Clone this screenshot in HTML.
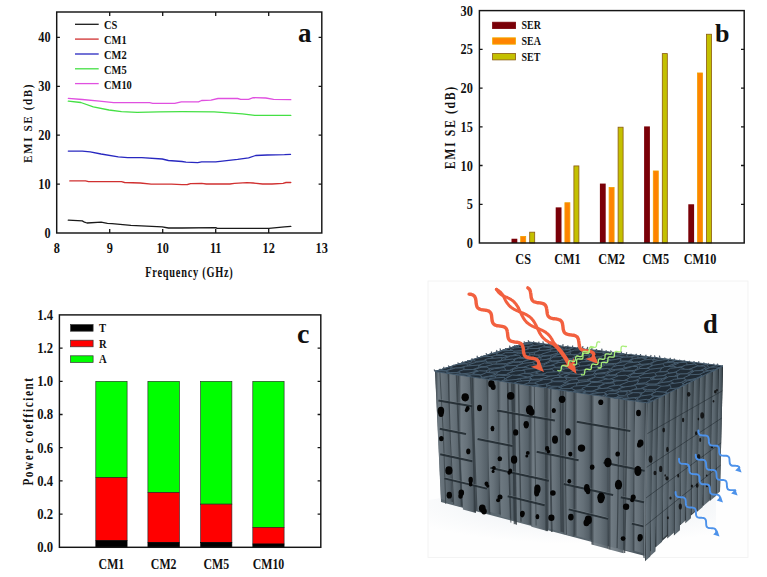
<!DOCTYPE html>
<html><head><meta charset="utf-8"><style>
html,body{margin:0;padding:0;background:#fff;}
svg{display:block;}
text{font-family:"Liberation Serif",serif;font-weight:bold;fill:#111;}
</style></head><body>
<svg width="767" height="577" viewBox="0 0 767 577">
<rect width="767" height="577" fill="#fff"/>
<rect x="56.7" y="12.0" width="265.1" height="221.0" fill="none" stroke="#151515" stroke-width="1.45"/>
<path d="M109.7,233.0v-4M109.7,12.0v4M162.7,233.0v-4M162.7,12.0v4M215.7,233.0v-4M215.7,12.0v4M268.7,233.0v-4M268.7,12.0v4M56.7,184.1h3.2M321.8,184.1h-3.2M56.7,135.2h3.2M321.8,135.2h-3.2M56.7,86.3h3.2M321.8,86.3h-3.2M56.7,37.4h3.2M321.8,37.4h-3.2" stroke="#151515" stroke-width="1.3" fill="none"/>
<text transform="translate(50.60,238.00) scale(0.83,1)" font-size="14.8" text-anchor="end" >0</text>
<text transform="translate(50.60,189.10) scale(0.83,1)" font-size="14.8" text-anchor="end" >10</text>
<text transform="translate(50.60,140.20) scale(0.83,1)" font-size="14.8" text-anchor="end" >20</text>
<text transform="translate(50.60,91.30) scale(0.83,1)" font-size="14.8" text-anchor="end" >30</text>
<text transform="translate(50.60,42.40) scale(0.83,1)" font-size="14.8" text-anchor="end" >40</text>
<text transform="translate(56.70,253.30) scale(0.83,1)" font-size="14.8" text-anchor="middle" >8</text>
<text transform="translate(109.70,253.30) scale(0.83,1)" font-size="14.8" text-anchor="middle" >9</text>
<text transform="translate(162.70,253.30) scale(0.83,1)" font-size="14.8" text-anchor="middle" >10</text>
<text transform="translate(215.70,253.30) scale(0.83,1)" font-size="14.8" text-anchor="middle" >11</text>
<text transform="translate(268.70,253.30) scale(0.83,1)" font-size="14.8" text-anchor="middle" >12</text>
<text transform="translate(321.70,253.30) scale(0.83,1)" font-size="14.8" text-anchor="middle" >13</text>
<text transform="translate(189.40,277.20) scale(0.74,1)" font-size="14.0" text-anchor="middle" letter-spacing="1.0">Frequency (GHz)</text>
<text transform="translate(31.80,122.90) rotate(-90) scale(0.85,1)" font-size="13.1" text-anchor="middle" letter-spacing="1.9">EMI SE (dB)</text>
<text x="298" y="42.4" font-size="27">a</text>
<line x1="75" y1="24.3" x2="98.7" y2="24.3" stroke="#1a1a1a" stroke-width="1.3"/>
<text transform="translate(104.00,29.20) scale(0.81,1)" font-size="12.9" text-anchor="start" >CS</text>
<line x1="75" y1="39.1" x2="98.7" y2="39.1" stroke="#d03030" stroke-width="1.3"/>
<text transform="translate(104.00,44.03) scale(0.81,1)" font-size="12.9" text-anchor="start" >CM1</text>
<line x1="75" y1="54.0" x2="98.7" y2="54.0" stroke="#2828c0" stroke-width="1.3"/>
<text transform="translate(104.00,58.86) scale(0.81,1)" font-size="12.9" text-anchor="start" >CM2</text>
<line x1="75" y1="68.8" x2="98.7" y2="68.8" stroke="#44e044" stroke-width="1.3"/>
<text transform="translate(104.00,73.69) scale(0.81,1)" font-size="12.9" text-anchor="start" >CM5</text>
<line x1="75" y1="83.6" x2="98.7" y2="83.6" stroke="#e050e0" stroke-width="1.3"/>
<text transform="translate(104.00,88.52) scale(0.81,1)" font-size="12.9" text-anchor="start" >CM10</text>
<polyline points="68.3,98.3 82.3,99.5 99.6,101.1 113.6,102.6 149.6,102.6 152.8,103.3 174.7,103.3 181.3,101.8 198.5,101.8 201.6,100.5 211.0,100.2 218.0,98.5 237.6,98.5 240.7,99.3 248.6,99.3 253.2,97.7 265.8,98.0 273.6,99.3 290.8,99.7" fill="none" stroke="#e050e0" stroke-width="1.3" stroke-linejoin="round" stroke-linecap="round"/>
<polyline points="68.3,101.1 80.8,102.5 93.3,106.9 109.0,110.0 121.5,111.6 137.1,112.3 159.0,111.9 182.0,111.7 214.1,111.8 225.0,112.7 242.3,113.8 254.8,115.4 290.8,115.4" fill="none" stroke="#44e044" stroke-width="1.3" stroke-linejoin="round" stroke-linecap="round"/>
<polyline points="68.3,151.1 82.3,151.1 90.2,151.9 101.1,154.0 118.3,156.8 127.7,157.6 141.8,157.6 162.2,159.0 168.4,160.5 182.0,161.5 186.0,162.1 197.7,162.6 201.6,161.8 215.7,161.8 237.6,159.4 248.6,157.9 255.6,155.5 267.3,155.0 284.5,154.7 290.5,154.4" fill="none" stroke="#2828c0" stroke-width="1.3" stroke-linejoin="round" stroke-linecap="round"/>
<polyline points="69.8,180.9 85.5,180.9 88.6,181.7 121.5,181.7 124.6,182.5 140.2,183.0 151.2,184.2 171.5,184.2 182.0,184.6 187.5,184.5 190.6,183.7 201.6,183.3 206.3,184.0 229.8,184.0 234.5,183.3 247.0,182.6 253.2,183.0 262.6,184.0 272.0,184.0 283.0,183.3 286.0,182.5 290.8,182.5" fill="none" stroke="#d03030" stroke-width="1.3" stroke-linejoin="round" stroke-linecap="round"/>
<polyline points="68.3,220.1 82.3,220.9 84.5,222.2 87.0,223.0 101.1,222.2 107.4,223.3 112.0,223.7 130.9,225.3 162.2,226.9 168.4,228.0 182.0,228.0 215.7,227.6 217.2,228.4 268.9,228.4 276.7,227.6 284.5,226.9 290.8,226.4" fill="none" stroke="#1a1a1a" stroke-width="1.3" stroke-linejoin="round" stroke-linecap="round"/>
<rect x="511.50" y="238.74" width="5.8" height="4.26" fill="#7a0008"/>
<rect x="520.70" y="236.43" width="5.0" height="6.57" fill="#ff8400" stroke="#f0a000" stroke-width="0.8"/>
<rect x="529.70" y="232.17" width="5.0" height="10.83" fill="#c4c000" stroke="#8a5a10" stroke-width="0.8"/>
<text transform="translate(523.20,264.20) scale(0.84,1)" font-size="14.6" text-anchor="middle" >CS</text>
<rect x="555.70" y="207.37" width="5.8" height="35.63" fill="#7a0008"/>
<rect x="564.90" y="202.73" width="5.0" height="40.27" fill="#ff8400" stroke="#f0a000" stroke-width="0.8"/>
<rect x="573.90" y="165.93" width="5.0" height="77.07" fill="#c4c000" stroke="#8a5a10" stroke-width="0.8"/>
<text transform="translate(567.40,264.20) scale(0.84,1)" font-size="14.6" text-anchor="middle" >CM1</text>
<rect x="599.90" y="183.58" width="5.8" height="59.42" fill="#7a0008"/>
<rect x="609.10" y="187.47" width="5.0" height="55.53" fill="#ff8400" stroke="#f0a000" stroke-width="0.8"/>
<rect x="618.10" y="127.20" width="5.0" height="115.80" fill="#c4c000" stroke="#8a5a10" stroke-width="0.8"/>
<text transform="translate(611.60,264.20) scale(0.84,1)" font-size="14.6" text-anchor="middle" >CM2</text>
<rect x="644.10" y="126.41" width="5.8" height="116.59" fill="#7a0008"/>
<rect x="653.30" y="170.97" width="5.0" height="72.03" fill="#ff8400" stroke="#f0a000" stroke-width="0.8"/>
<rect x="662.30" y="53.61" width="5.0" height="189.39" fill="#c4c000" stroke="#8a5a10" stroke-width="0.8"/>
<text transform="translate(655.80,264.20) scale(0.84,1)" font-size="14.6" text-anchor="middle" >CM5</text>
<rect x="688.30" y="204.27" width="5.8" height="38.73" fill="#7a0008"/>
<rect x="697.50" y="72.97" width="5.0" height="170.03" fill="#ff8400" stroke="#f0a000" stroke-width="0.8"/>
<rect x="706.50" y="34.24" width="5.0" height="208.76" fill="#c4c000" stroke="#8a5a10" stroke-width="0.8"/>
<text transform="translate(700.00,264.20) scale(0.84,1)" font-size="14.6" text-anchor="middle" >CM10</text>
<rect x="479.4" y="10.6" width="264.8" height="232.4" fill="none" stroke="#151515" stroke-width="1.45"/>
<path d="M479.4,204.3h3.2M744.2,204.3h-3.2M479.4,165.5h3.2M744.2,165.5h-3.2M479.4,126.8h3.2M744.2,126.8h-3.2M479.4,88.1h3.2M744.2,88.1h-3.2M479.4,49.3h3.2M744.2,49.3h-3.2" stroke="#151515" stroke-width="1.3" fill="none"/>
<text transform="translate(472.90,248.00) scale(0.83,1)" font-size="14.8" text-anchor="end" >0</text>
<text transform="translate(472.90,209.27) scale(0.83,1)" font-size="14.8" text-anchor="end" >5</text>
<text transform="translate(472.90,170.53) scale(0.83,1)" font-size="14.8" text-anchor="end" >10</text>
<text transform="translate(472.90,131.80) scale(0.83,1)" font-size="14.8" text-anchor="end" >15</text>
<text transform="translate(472.90,93.07) scale(0.83,1)" font-size="14.8" text-anchor="end" >20</text>
<text transform="translate(472.90,54.33) scale(0.83,1)" font-size="14.8" text-anchor="end" >25</text>
<text transform="translate(472.90,15.60) scale(0.83,1)" font-size="14.8" text-anchor="end" >30</text>
<text transform="translate(454.60,127.20) rotate(-90) scale(0.85,1)" font-size="13.9" text-anchor="middle" letter-spacing="1.9">EMI SE (dB)</text>
<text x="715" y="42.2" font-size="26">b</text>
<rect x="492.6" y="22.2" width="23" height="6.4" fill="#7a0008" stroke="#7a0008" stroke-width="0.8"/>
<text transform="translate(521.50,29.30) scale(0.86,1)" font-size="11.6" text-anchor="start" >SER</text>
<rect x="492.6" y="37.8" width="23" height="6.4" fill="#ff8400" stroke="#f0b000" stroke-width="0.8"/>
<text transform="translate(521.50,44.95) scale(0.86,1)" font-size="11.6" text-anchor="start" >SEA</text>
<rect x="492.6" y="53.5" width="23" height="6.4" fill="#c4c000" stroke="#8a5a10" stroke-width="0.8"/>
<text transform="translate(521.50,60.60) scale(0.86,1)" font-size="11.6" text-anchor="start" >SET</text>
<rect x="95.8" y="381.30" width="31.3" height="96.28" fill="#00ff00" stroke="#222" stroke-width="0.6"/>
<rect x="95.8" y="477.58" width="31.3" height="63.08" fill="#ff0000" stroke="#222" stroke-width="0.6"/>
<rect x="95.8" y="540.66" width="31.3" height="6.64" fill="#000" stroke="#000" stroke-width="0.6"/>
<text transform="translate(111.45,568.60) scale(0.77,1)" font-size="15.4" text-anchor="middle" >CM1</text>
<rect x="147.9" y="381.30" width="31.6" height="111.22" fill="#00ff00" stroke="#222" stroke-width="0.6"/>
<rect x="147.9" y="492.52" width="31.6" height="49.80" fill="#ff0000" stroke="#222" stroke-width="0.6"/>
<rect x="147.9" y="542.32" width="31.6" height="4.98" fill="#000" stroke="#000" stroke-width="0.6"/>
<text transform="translate(163.70,568.60) scale(0.77,1)" font-size="15.4" text-anchor="middle" >CM2</text>
<rect x="200.6" y="381.30" width="31.3" height="122.84" fill="#00ff00" stroke="#222" stroke-width="0.6"/>
<rect x="200.6" y="504.14" width="31.3" height="38.18" fill="#ff0000" stroke="#222" stroke-width="0.6"/>
<rect x="200.6" y="542.32" width="31.3" height="4.98" fill="#000" stroke="#000" stroke-width="0.6"/>
<text transform="translate(216.25,568.60) scale(0.77,1)" font-size="15.4" text-anchor="middle" >CM5</text>
<rect x="252.8" y="381.30" width="31.3" height="146.08" fill="#00ff00" stroke="#222" stroke-width="0.6"/>
<rect x="252.8" y="527.38" width="31.3" height="16.60" fill="#ff0000" stroke="#222" stroke-width="0.6"/>
<rect x="252.8" y="543.98" width="31.3" height="3.32" fill="#000" stroke="#000" stroke-width="0.6"/>
<text transform="translate(268.45,568.60) scale(0.77,1)" font-size="15.4" text-anchor="middle" >CM10</text>
<rect x="59.4" y="314.9" width="261.4" height="232.4" fill="none" stroke="#151515" stroke-width="1.45"/>
<path d="M59.4,514.1h3.2M320.8,514.1h-3.2M59.4,480.9h3.2M320.8,480.9h-3.2M59.4,447.7h3.2M320.8,447.7h-3.2M59.4,414.5h3.2M320.8,414.5h-3.2M59.4,381.3h3.2M320.8,381.3h-3.2M59.4,348.1h3.2M320.8,348.1h-3.2" stroke="#151515" stroke-width="1.3" fill="none"/>
<text transform="translate(53.00,552.20) scale(0.88,1)" font-size="14.4" text-anchor="end" >0.0</text>
<text transform="translate(53.00,519.00) scale(0.88,1)" font-size="14.4" text-anchor="end" >0.2</text>
<text transform="translate(53.00,485.80) scale(0.88,1)" font-size="14.4" text-anchor="end" >0.4</text>
<text transform="translate(53.00,452.60) scale(0.88,1)" font-size="14.4" text-anchor="end" >0.6</text>
<text transform="translate(53.00,419.40) scale(0.88,1)" font-size="14.4" text-anchor="end" >0.8</text>
<text transform="translate(53.00,386.20) scale(0.88,1)" font-size="14.4" text-anchor="end" >1.0</text>
<text transform="translate(53.00,353.00) scale(0.88,1)" font-size="14.4" text-anchor="end" >1.2</text>
<text transform="translate(53.00,319.80) scale(0.88,1)" font-size="14.4" text-anchor="end" >1.4</text>
<text transform="translate(32.80,431.00) rotate(-90) scale(0.73,1)" font-size="15.3" text-anchor="middle" letter-spacing="2.2">Power coefficient</text>
<text x="297" y="343" font-size="28">c</text>
<rect x="70.6" y="324.6" width="22.5" height="6.6" fill="#000" stroke="#333" stroke-width="0.7"/>
<text transform="translate(99.00,332.00) scale(0.83,1)" font-size="12.8" text-anchor="start" >T</text>
<rect x="70.6" y="340.2" width="22.5" height="6.6" fill="#ff0000" stroke="#333" stroke-width="0.7"/>
<text transform="translate(99.00,347.60) scale(0.83,1)" font-size="12.8" text-anchor="start" >R</text>
<rect x="70.6" y="355.8" width="22.5" height="6.6" fill="#00ff00" stroke="#333" stroke-width="0.7"/>
<text transform="translate(99.00,363.20) scale(0.83,1)" font-size="12.8" text-anchor="start" >A</text>
<rect x="428" y="281" width="320" height="276.5" fill="#fefefe" stroke="#f0f0f0" stroke-width="0.8"/>
<defs><linearGradient id="shd" x1="0" y1="0" x2="0" y2="1"><stop offset="0" stop-color="#e6ebef"/><stop offset="0.6" stop-color="#f1f4f6"/><stop offset="1" stop-color="#fafbfc"/></linearGradient><linearGradient id="frontg" x1="0" y1="0" x2="1" y2="0"><stop offset="0" stop-color="#57636b"/><stop offset="0.45" stop-color="#5d6a72"/><stop offset="0.8" stop-color="#55616a"/><stop offset="1" stop-color="#4a555d"/></linearGradient><linearGradient id="rightg" x1="0" y1="0" x2="1" y2="0"><stop offset="0" stop-color="#353e44"/><stop offset="1" stop-color="#2d353a"/></linearGradient><linearGradient id="topg" x1="0" y1="0" x2="1" y2="1"><stop offset="0" stop-color="#3e4a55"/><stop offset="1" stop-color="#34404a"/></linearGradient><linearGradient id="fin" x1="0" y1="0" x2="1" y2="0"><stop offset="0" stop-color="#2e363c"/><stop offset="0.18" stop-color="#727d85"/><stop offset="0.5" stop-color="#67727a"/><stop offset="0.82" stop-color="#545f67"/><stop offset="1" stop-color="#2c343a"/></linearGradient><linearGradient id="finr" x1="0" y1="0" x2="1" y2="0"><stop offset="0" stop-color="#1e252a"/><stop offset="0.15" stop-color="#65717a"/><stop offset="0.5" stop-color="#58646c"/><stop offset="0.85" stop-color="#3e4950"/><stop offset="1" stop-color="#1d2429"/></linearGradient><radialGradient id="shd2" cx="0.55" cy="0.1" r="0.7"><stop offset="0" stop-color="#e9eef2"/><stop offset="0.6" stop-color="#f5f7f9"/><stop offset="1" stop-color="#fefefe"/></radialGradient></defs>
<polygon points="441,498 645,552 716,494 716,556.5 429,556.5 429,500" fill="url(#shd2)"/>
<polygon points="435,371.5 648,403 645,556 441,502" fill="url(#frontg)"/>
<polygon points="648,403 723,366 720,490 645,556" fill="url(#rightg)"/>
<path d="M435.0,369.9 L447.7,373.2 Q450.6,437.7 453.2,502.3 L441.0,499.1 Q438.1,434.5 435.0,369.9Z" fill="url(#fin)" opacity="0.84"/>
<path d="M447.7,373.3 L457.8,373.8 Q458.8,440.6 462.9,507.3 L453.2,504.8 Q448.9,439.0 447.7,373.3Z" fill="url(#fin)" opacity="0.77"/>
<path d="M457.8,374.6 L471.5,376.3 Q474.2,444.7 475.9,513.0 L462.9,509.6 Q460.8,442.1 457.8,374.6Z" fill="url(#fin)" opacity="0.99"/>
<path d="M471.5,374.5 L486.6,379.0 Q489.8,446.4 490.4,513.9 L475.9,510.0 Q475.0,442.2 471.5,374.5Z" fill="url(#fin)" opacity="0.82"/>
<path d="M486.6,378.4 L497.6,378.7 Q498.1,446.7 500.9,514.7 L490.4,511.9 Q487.4,445.1 486.6,378.4Z" fill="url(#fin)" opacity="0.90"/>
<path d="M497.6,379.4 L513.3,382.9 Q513.0,451.7 516.0,520.5 L500.9,516.5 Q497.7,447.9 497.6,379.4Z" fill="url(#fin)" opacity="0.80"/>
<path d="M513.3,382.3 L529.4,384.0 Q530.2,454.5 531.4,524.9 L516.0,520.8 Q514.5,451.6 513.3,382.3Z" fill="url(#fin)" opacity="0.82"/>
<path d="M529.4,384.8 L546.6,386.6 Q547.3,458.9 547.9,531.2 L531.4,526.8 Q530.5,455.8 529.4,384.8Z" fill="url(#fin)" opacity="0.97"/>
<path d="M546.6,385.6 L563.2,390.2 Q563.2,461.3 563.7,532.5 L547.9,528.3 Q546.9,456.9 546.6,385.6Z" fill="url(#fin)" opacity="0.94"/>
<path d="M563.2,390.4 L574.2,390.4 Q575.2,463.6 574.3,536.7 L563.7,533.9 Q564.4,462.1 563.2,390.4Z" fill="url(#fin)" opacity="0.89"/>
<path d="M574.2,390.3 L592.2,393.3 Q592.1,466.7 591.5,540.0 L574.3,535.5 Q574.5,462.9 574.2,390.3Z" fill="url(#fin)" opacity="0.86"/>
<path d="M592.2,393.6 L609.8,395.7 Q607.5,472.3 608.4,548.9 L591.5,544.5 Q590.3,469.0 592.2,393.6Z" fill="url(#fin)" opacity="0.93"/>
<path d="M609.8,395.3 L625.6,399.0 Q624.2,476.1 623.5,553.3 L608.4,549.3 Q608.7,472.3 609.8,395.3Z" fill="url(#fin)" opacity="0.92"/>
<path d="M625.6,399.3 L635.4,400.8 Q632.6,476.4 632.9,552.0 L623.5,549.6 Q623.0,474.4 625.6,399.3Z" fill="url(#fin)" opacity="0.94"/>
<path d="M635.4,400.2 L646.2,400.6 Q643.3,476.9 643.3,553.3 L632.9,550.5 Q632.7,475.3 635.4,400.2Z" fill="url(#fin)" opacity="0.86"/>
<path d="M646.2,400.7 L648.0,400.8 Q645.7,479.5 645.0,558.2 L643.3,557.7 Q644.0,479.2 646.2,400.7Z" fill="url(#fin)" opacity="0.85"/>
<path d="M511.4,382.8 Q514.0,452.1 514.2,524.2" stroke="#343d43" stroke-width="1.0" fill="none" opacity="0.8"/>
<path d="M472.5,377.1 Q473.9,444.3 476.9,510.7" stroke="#343d43" stroke-width="1.3" fill="none" opacity="0.8"/>
<path d="M560.5,390.1 Q560.1,461.9 561.2,531.8" stroke="#343d43" stroke-width="1.2" fill="none" opacity="0.8"/>
<path d="M513.7,383.1 Q515.2,452.5 516.3,524.7" stroke="#343d43" stroke-width="1.5" fill="none" opacity="0.8"/>
<path d="M544.8,387.7 Q545.8,458.8 546.2,531.2" stroke="#343d43" stroke-width="0.9" fill="none" opacity="0.8"/>
<path d="M626.6,399.8 Q626.4,475.2 624.5,552.9" stroke="#343d43" stroke-width="1.6" fill="none" opacity="0.8"/>
<path d="M518.6,383.9 Q519.5,453.5 521.0,521.7" stroke="#343d43" stroke-width="1.4" fill="none" opacity="0.8"/>
<path d="M448.3,373.5 Q449.7,439.4 453.7,504.4" stroke="#343d43" stroke-width="1.0" fill="none" opacity="0.8"/>
<path d="M507.4,382.2 Q507.6,451.3 510.4,518.4" stroke="#343d43" stroke-width="1.0" fill="none" opacity="0.8"/>
<path d="M456.6,374.7 Q458.7,441.1 461.7,505.6" stroke="#343d43" stroke-width="1.7" fill="none" opacity="0.8"/>
<path d="M565.8,390.8 Q565.0,463.0 566.3,534.4" stroke="#343d43" stroke-width="1.1" fill="none" opacity="0.8"/>
<path d="M512.6,383.0 Q512.8,452.3 515.3,523.9" stroke="#343d43" stroke-width="1.8" fill="none" opacity="0.8"/>
<path d="M534.3,386.2 Q535.1,456.7 536.1,525.6" stroke="#343d43" stroke-width="0.9" fill="none" opacity="0.8"/>
<path d="M508.0,382.3 Q508.7,451.4 510.9,522.6" stroke="#343d43" stroke-width="1.0" fill="none" opacity="0.8"/>
<path d="M439.9,372.2 Q444.2,437.7 445.7,503.9" stroke="#343d43" stroke-width="0.9" fill="none" opacity="0.8"/>
<path d="M550.7,388.6 Q549.8,460.0 551.8,532.0" stroke="#343d43" stroke-width="1.8" fill="none" opacity="0.8"/>
<path d="M618.9,398.7 Q618.6,473.7 617.1,547.9" stroke="#343d43" stroke-width="1.2" fill="none" opacity="0.8"/>
<path d="M470.6,376.8 Q473.6,443.9 475.1,511.7" stroke="#343d43" stroke-width="1.6" fill="none" opacity="0.8"/>
<line x1="438.4" y1="399.5" x2="472.2" y2="405.3" stroke="#8a959c" stroke-width="0.8" opacity="0.6"/>
<line x1="438.4" y1="400.5" x2="472.2" y2="406.3" stroke="#222b31" stroke-width="2.0" opacity="0.9"/>
<line x1="497.2" y1="409.6" x2="554.9" y2="419.6" stroke="#8a959c" stroke-width="0.8" opacity="0.6"/>
<line x1="497.2" y1="410.6" x2="554.9" y2="420.6" stroke="#222b31" stroke-width="2.0" opacity="0.9"/>
<line x1="576.8" y1="420.8" x2="630.3" y2="430.0" stroke="#8a959c" stroke-width="0.8" opacity="0.6"/>
<line x1="576.8" y1="421.8" x2="630.3" y2="431.0" stroke="#222b31" stroke-width="2.0" opacity="0.9"/>
<line x1="439.8" y1="427.8" x2="466.0" y2="433.0" stroke="#8a959c" stroke-width="0.8" opacity="0.6"/>
<line x1="439.8" y1="428.8" x2="466.0" y2="434.0" stroke="#222b31" stroke-width="2.0" opacity="0.9"/>
<line x1="477.6" y1="438.0" x2="512.5" y2="444.9" stroke="#8a959c" stroke-width="0.8" opacity="0.6"/>
<line x1="477.6" y1="439.0" x2="512.5" y2="445.9" stroke="#222b31" stroke-width="2.0" opacity="0.9"/>
<line x1="536.7" y1="450.8" x2="578.6" y2="459.2" stroke="#8a959c" stroke-width="0.8" opacity="0.6"/>
<line x1="536.7" y1="451.8" x2="578.6" y2="460.2" stroke="#222b31" stroke-width="2.0" opacity="0.9"/>
<line x1="603.4" y1="461.6" x2="644.6" y2="469.8" stroke="#8a959c" stroke-width="0.8" opacity="0.6"/>
<line x1="603.4" y1="462.6" x2="644.6" y2="470.8" stroke="#222b31" stroke-width="2.0" opacity="0.9"/>
<line x1="440.2" y1="453.2" x2="472.4" y2="460.3" stroke="#8a959c" stroke-width="0.8" opacity="0.6"/>
<line x1="440.2" y1="454.2" x2="472.4" y2="461.3" stroke="#222b31" stroke-width="2.0" opacity="0.9"/>
<line x1="490.4" y1="466.8" x2="548.8" y2="479.8" stroke="#8a959c" stroke-width="0.8" opacity="0.6"/>
<line x1="490.4" y1="467.8" x2="548.8" y2="480.8" stroke="#222b31" stroke-width="2.0" opacity="0.9"/>
<line x1="563.9" y1="483.0" x2="613.1" y2="494.0" stroke="#8a959c" stroke-width="0.8" opacity="0.6"/>
<line x1="563.9" y1="484.0" x2="613.1" y2="495.0" stroke="#222b31" stroke-width="2.0" opacity="0.9"/>
<line x1="620.9" y1="496.2" x2="644.0" y2="501.3" stroke="#8a959c" stroke-width="0.8" opacity="0.6"/>
<line x1="620.9" y1="497.2" x2="644.0" y2="502.3" stroke="#222b31" stroke-width="2.0" opacity="0.9"/>
<line x1="444.5" y1="477.4" x2="486.9" y2="487.6" stroke="#8a959c" stroke-width="0.8" opacity="0.6"/>
<line x1="444.5" y1="478.4" x2="486.9" y2="488.6" stroke="#222b31" stroke-width="2.0" opacity="0.9"/>
<line x1="507.7" y1="495.2" x2="544.7" y2="504.2" stroke="#8a959c" stroke-width="0.8" opacity="0.6"/>
<line x1="507.7" y1="496.2" x2="544.7" y2="505.2" stroke="#222b31" stroke-width="2.0" opacity="0.9"/>
<line x1="568.8" y1="508.4" x2="608.1" y2="517.9" stroke="#8a959c" stroke-width="0.8" opacity="0.6"/>
<line x1="568.8" y1="509.4" x2="608.1" y2="518.9" stroke="#222b31" stroke-width="2.0" opacity="0.9"/>
<line x1="631.9" y1="522.6" x2="643.5" y2="525.4" stroke="#8a959c" stroke-width="0.8" opacity="0.6"/>
<line x1="631.9" y1="523.6" x2="643.5" y2="526.4" stroke="#222b31" stroke-width="2.0" opacity="0.9"/>
<polygon points="648.0,399.8 653.3,397.2 650.3,556.6 645.0,561.2" fill="url(#finr)"/>
<polygon points="653.3,396.5 658.5,393.9 655.5,551.3 650.3,556.0" fill="url(#finr)"/>
<polygon points="658.5,395.6 665.1,392.4 662.1,541.7 655.5,547.5" fill="url(#finr)"/>
<polygon points="665.1,390.7 670.3,388.1 667.3,534.4 662.1,539.0" fill="url(#finr)"/>
<polygon points="670.3,388.2 676.9,385.0 673.9,532.8 667.3,538.5" fill="url(#finr)"/>
<polygon points="676.9,385.4 682.9,382.5 679.9,530.2 673.9,535.5" fill="url(#finr)"/>
<polygon points="682.9,384.6 688.4,381.9 685.4,520.5 679.9,525.3" fill="url(#finr)"/>
<polygon points="688.4,382.0 693.9,379.3 690.9,518.3 685.4,523.2" fill="url(#finr)"/>
<polygon points="693.9,376.7 699.9,373.8 696.9,509.4 690.9,514.7" fill="url(#finr)"/>
<polygon points="699.9,375.1 705.7,372.2 702.7,506.9 696.9,512.0" fill="url(#finr)"/>
<polygon points="705.7,370.9 712.9,367.3 709.9,500.2 702.7,506.6" fill="url(#finr)"/>
<polygon points="712.9,368.9 719.1,365.8 716.1,495.7 709.9,501.1" fill="url(#finr)"/>
<polygon points="719.1,367.2 723.0,365.3 720.0,491.5 716.1,495.0" fill="url(#finr)"/>
<line x1="647.4" y1="433.6" x2="722.4" y2="390.8" stroke="#1d252b" stroke-width="1.0" opacity="0.5"/>
<line x1="646.7" y1="467.3" x2="721.7" y2="418.1" stroke="#1d252b" stroke-width="1.0" opacity="0.5"/>
<line x1="646.1" y1="497.9" x2="721.1" y2="442.9" stroke="#1d252b" stroke-width="1.0" opacity="0.5"/>
<line x1="645.6" y1="525.4" x2="720.6" y2="465.2" stroke="#1d252b" stroke-width="1.0" opacity="0.5"/>
<ellipse cx="440.9" cy="410.9" rx="3.3" ry="4.1" fill="#040404"/>
<ellipse cx="441.0" cy="413.7" rx="2.6" ry="3.3" fill="#040404"/>
<ellipse cx="441.3" cy="438.7" rx="2.3" ry="2.6" fill="#040404"/>
<ellipse cx="448.9" cy="470.5" rx="3.6" ry="4.3" fill="#040404"/>
<ellipse cx="449.3" cy="495.2" rx="2.7" ry="3.4" fill="#040404"/>
<ellipse cx="465.2" cy="397.3" rx="3.7" ry="4.1" fill="#040404"/>
<ellipse cx="467.6" cy="408.5" rx="2.0" ry="2.4" fill="#040404"/>
<ellipse cx="466.5" cy="410.2" rx="1.6" ry="2.0" fill="#040404"/>
<ellipse cx="468.3" cy="451.4" rx="2.1" ry="2.8" fill="#040404"/>
<ellipse cx="470.7" cy="480.0" rx="2.2" ry="3.2" fill="#040404"/>
<ellipse cx="470.6" cy="484.0" rx="1.8" ry="2.6" fill="#040404"/>
<ellipse cx="461.3" cy="492.8" rx="2.8" ry="3.3" fill="#040404"/>
<ellipse cx="460.6" cy="496.1" rx="2.3" ry="2.6" fill="#040404"/>
<ellipse cx="479.5" cy="408.0" rx="2.5" ry="3.2" fill="#040404"/>
<ellipse cx="486.5" cy="483.8" rx="2.0" ry="2.2" fill="#040404"/>
<ellipse cx="487.7" cy="486.0" rx="1.6" ry="1.8" fill="#040404"/>
<ellipse cx="482.3" cy="508.4" rx="3.4" ry="3.8" fill="#040404"/>
<ellipse cx="484.0" cy="511.3" rx="2.8" ry="3.1" fill="#040404"/>
<ellipse cx="491.4" cy="383.8" rx="3.2" ry="3.8" fill="#040404"/>
<ellipse cx="493.2" cy="386.9" rx="2.5" ry="3.0" fill="#040404"/>
<ellipse cx="492.5" cy="428.5" rx="1.9" ry="2.7" fill="#040404"/>
<ellipse cx="499.8" cy="458.7" rx="2.3" ry="2.5" fill="#040404"/>
<ellipse cx="493.9" cy="468.0" rx="1.9" ry="2.1" fill="#040404"/>
<ellipse cx="493.1" cy="471.4" rx="1.5" ry="1.7" fill="#040404"/>
<ellipse cx="500.0" cy="497.0" rx="2.5" ry="2.5" fill="#040404"/>
<ellipse cx="498.1" cy="500.3" rx="2.0" ry="2.0" fill="#040404"/>
<ellipse cx="510.7" cy="395.9" rx="3.7" ry="3.8" fill="#040404"/>
<ellipse cx="515.7" cy="432.4" rx="2.6" ry="3.2" fill="#040404"/>
<ellipse cx="514.1" cy="459.7" rx="3.2" ry="4.1" fill="#040404"/>
<ellipse cx="510.4" cy="471.0" rx="1.9" ry="2.6" fill="#040404"/>
<ellipse cx="509.1" cy="472.7" rx="1.6" ry="2.1" fill="#040404"/>
<ellipse cx="522.4" cy="513.4" rx="2.4" ry="2.6" fill="#040404"/>
<ellipse cx="522.2" cy="515.3" rx="1.9" ry="2.1" fill="#040404"/>
<ellipse cx="529.6" cy="409.9" rx="3.7" ry="4.7" fill="#040404"/>
<ellipse cx="531.5" cy="412.1" rx="3.0" ry="3.7" fill="#040404"/>
<ellipse cx="526.2" cy="424.3" rx="2.7" ry="3.4" fill="#040404"/>
<ellipse cx="526.2" cy="425.8" rx="2.2" ry="2.7" fill="#040404"/>
<ellipse cx="527.8" cy="452.9" rx="1.9" ry="1.9" fill="#040404"/>
<ellipse cx="526.8" cy="455.9" rx="1.5" ry="1.5" fill="#040404"/>
<ellipse cx="537.4" cy="488.9" rx="3.2" ry="4.5" fill="#040404"/>
<ellipse cx="536.7" cy="492.8" rx="2.6" ry="3.6" fill="#040404"/>
<ellipse cx="537.4" cy="516.7" rx="1.9" ry="2.6" fill="#040404"/>
<ellipse cx="553.8" cy="410.5" rx="2.1" ry="2.6" fill="#040404"/>
<ellipse cx="555.0" cy="439.6" rx="3.0" ry="4.2" fill="#040404"/>
<ellipse cx="547.1" cy="448.5" rx="2.1" ry="2.4" fill="#040404"/>
<ellipse cx="548.4" cy="451.4" rx="1.7" ry="1.9" fill="#040404"/>
<ellipse cx="552.9" cy="493.0" rx="2.8" ry="2.8" fill="#040404"/>
<ellipse cx="551.4" cy="517.8" rx="3.1" ry="3.2" fill="#040404"/>
<ellipse cx="562.1" cy="399.3" rx="3.3" ry="3.6" fill="#040404"/>
<ellipse cx="568.1" cy="431.8" rx="2.8" ry="3.6" fill="#040404"/>
<ellipse cx="570.3" cy="454.1" rx="2.1" ry="2.3" fill="#040404"/>
<ellipse cx="569.3" cy="481.3" rx="1.9" ry="2.2" fill="#040404"/>
<ellipse cx="570.9" cy="517.1" rx="2.8" ry="3.4" fill="#040404"/>
<ellipse cx="581.5" cy="448.1" rx="3.7" ry="3.7" fill="#040404"/>
<ellipse cx="592.2" cy="467.2" rx="2.3" ry="2.6" fill="#040404"/>
<ellipse cx="586.8" cy="488.2" rx="2.8" ry="4.1" fill="#040404"/>
<ellipse cx="588.0" cy="490.9" rx="2.3" ry="3.3" fill="#040404"/>
<ellipse cx="588.3" cy="520.0" rx="3.6" ry="4.4" fill="#040404"/>
<ellipse cx="586.4" cy="522.7" rx="2.9" ry="3.5" fill="#040404"/>
<ellipse cx="600.8" cy="402.3" rx="2.5" ry="2.8" fill="#040404"/>
<ellipse cx="607.9" cy="462.5" rx="3.7" ry="4.8" fill="#040404"/>
<ellipse cx="601.1" cy="497.3" rx="3.8" ry="4.8" fill="#040404"/>
<ellipse cx="600.8" cy="499.5" rx="3.0" ry="3.8" fill="#040404"/>
<ellipse cx="617.7" cy="454.0" rx="2.3" ry="2.6" fill="#040404"/>
<ellipse cx="618.5" cy="484.7" rx="3.6" ry="4.9" fill="#040404"/>
<ellipse cx="626.1" cy="506.8" rx="3.2" ry="3.3" fill="#040404"/>
<ellipse cx="623.1" cy="538.6" rx="2.4" ry="2.4" fill="#040404"/>
<ellipse cx="638.5" cy="413.0" rx="2.4" ry="3.2" fill="#040404"/>
<ellipse cx="640.6" cy="442.9" rx="2.9" ry="3.4" fill="#040404"/>
<ellipse cx="639.3" cy="444.9" rx="2.3" ry="2.7" fill="#040404"/>
<ellipse cx="637.9" cy="470.9" rx="3.6" ry="5.2" fill="#040404"/>
<ellipse cx="633.2" cy="497.2" rx="2.5" ry="2.6" fill="#040404"/>
<ellipse cx="632.2" cy="500.2" rx="2.0" ry="2.1" fill="#040404"/>
<ellipse cx="640.2" cy="537.3" rx="2.6" ry="3.2" fill="#040404"/>
<ellipse cx="639.6" cy="538.9" rx="2.1" ry="2.6" fill="#040404"/>
<ellipse cx="667.9" cy="517.8" rx="1.0" ry="1.5" fill="#0a0a0a" opacity="0.85"/>
<ellipse cx="691.9" cy="486.0" rx="1.1" ry="1.5" fill="#0a0a0a" opacity="0.85"/>
<ellipse cx="667.4" cy="449.4" rx="1.3" ry="2.6" fill="#0a0a0a" opacity="0.85"/>
<ellipse cx="706.7" cy="475.4" rx="0.8" ry="1.0" fill="#0a0a0a" opacity="0.85"/>
<ellipse cx="697.2" cy="485.5" rx="1.4" ry="2.3" fill="#0a0a0a" opacity="0.85"/>
<ellipse cx="650.6" cy="459.2" rx="1.9" ry="3.6" fill="#0a0a0a" opacity="0.85"/>
<ellipse cx="706.9" cy="485.9" rx="1.1" ry="1.4" fill="#0a0a0a" opacity="0.85"/>
<ellipse cx="660.7" cy="468.9" rx="1.6" ry="3.2" fill="#0a0a0a" opacity="0.85"/>
<ellipse cx="698.7" cy="456.8" rx="1.7" ry="2.7" fill="#0a0a0a" opacity="0.85"/>
<ellipse cx="688.7" cy="394.3" rx="1.7" ry="2.4" fill="#0a0a0a" opacity="0.85"/>
<ellipse cx="712.0" cy="446.9" rx="1.2" ry="1.5" fill="#0a0a0a" opacity="0.85"/>
<ellipse cx="667.0" cy="478.4" rx="1.6" ry="2.1" fill="#0a0a0a" opacity="0.85"/>
<ellipse cx="655.0" cy="473.0" rx="1.5" ry="2.3" fill="#0a0a0a" opacity="0.85"/>
<ellipse cx="665.2" cy="475.4" rx="0.8" ry="1.2" fill="#0a0a0a" opacity="0.85"/>
<ellipse cx="680.3" cy="506.5" rx="1.6" ry="3.0" fill="#0a0a0a" opacity="0.85"/>
<ellipse cx="683.1" cy="420.0" rx="1.1" ry="2.2" fill="#0a0a0a" opacity="0.85"/>
<ellipse cx="698.4" cy="419.1" rx="0.8" ry="1.3" fill="#0a0a0a" opacity="0.85"/>
<ellipse cx="696.1" cy="433.2" rx="1.1" ry="1.9" fill="#0a0a0a" opacity="0.85"/>
<ellipse cx="713.5" cy="401.3" rx="0.8" ry="1.2" fill="#0a0a0a" opacity="0.85"/>
<ellipse cx="678.2" cy="475.7" rx="1.0" ry="1.9" fill="#0a0a0a" opacity="0.85"/>
<ellipse cx="700.2" cy="439.9" rx="1.0" ry="2.1" fill="#0a0a0a" opacity="0.85"/>
<ellipse cx="670.5" cy="497.9" rx="1.1" ry="1.5" fill="#0a0a0a" opacity="0.85"/>
<ellipse cx="702.2" cy="415.4" rx="1.9" ry="3.1" fill="#0a0a0a" opacity="0.85"/>
<ellipse cx="663.7" cy="430.1" rx="1.3" ry="2.3" fill="#0a0a0a" opacity="0.85"/>
<ellipse cx="715.3" cy="391.7" rx="1.3" ry="1.7" fill="#0a0a0a" opacity="0.85"/>
<ellipse cx="717.0" cy="390.2" rx="0.9" ry="1.1" fill="#0a0a0a" opacity="0.85"/>
<polygon points="435,371.5 529,342 723,366 648,403" fill="#2c3843"/>
<polygon points="522.1,344.2 521.1,344.5 522.8,344.0 529.0,342.0 529.0,342.0 529.0,342.0" fill="#202b35" stroke="#465c6e" stroke-width="1.0" stroke-linejoin="round"/>
<polygon points="526.2,343.8 522.3,344.1 524.6,343.4 529.0,342.0 529.0,342.0 532.9,342.5" fill="#202b35" stroke="#465c6e" stroke-width="1.0" stroke-linejoin="round"/>
<polygon points="538.0,345.7 531.0,345.2 526.8,344.6 533.7,342.6 539.6,343.3 542.6,343.7" fill="#202b35" stroke="#465c6e" stroke-width="1.0" stroke-linejoin="round"/>
<polygon points="554.2,345.4 543.3,347.0 540.7,345.3 543.3,343.8 549.8,344.6 556.4,345.4" fill="#202b35" stroke="#465c6e" stroke-width="1.0" stroke-linejoin="round"/>
<polygon points="558.3,347.8 550.5,348.7 550.1,346.5 553.1,345.0 558.3,345.6 562.8,346.2" fill="#202b35" stroke="#465c6e" stroke-width="1.0" stroke-linejoin="round"/>
<polygon points="574.0,348.2 565.6,349.5 566.3,347.2 565.4,346.5 570.8,347.2 575.2,347.7" fill="#202b35" stroke="#465c6e" stroke-width="1.0" stroke-linejoin="round"/>
<polygon points="581.3,350.7 570.0,351.3 569.5,349.1 574.0,347.6 579.0,348.2 584.5,348.9" fill="#202b35" stroke="#465c6e" stroke-width="1.0" stroke-linejoin="round"/>
<polygon points="594.3,351.8 583.3,352.5 582.0,351.1 586.0,349.0 592.5,349.9 597.6,350.5" fill="#202b35" stroke="#465c6e" stroke-width="1.0" stroke-linejoin="round"/>
<polygon points="600.6,352.8 591.9,353.5 593.3,350.7 595.7,350.2 598.8,350.6 604.6,351.4" fill="#202b35" stroke="#465c6e" stroke-width="1.0" stroke-linejoin="round"/>
<polygon points="612.8,353.5 606.4,353.1 602.7,352.3 604.8,351.4 609.5,352.0 615.0,352.6" fill="#202b35" stroke="#465c6e" stroke-width="1.0" stroke-linejoin="round"/>
<polygon points="621.8,354.4 613.8,355.6 611.3,353.4 615.2,352.7 619.5,353.2 624.4,353.8" fill="#202b35" stroke="#465c6e" stroke-width="1.0" stroke-linejoin="round"/>
<polygon points="635.7,355.9 627.9,357.4 626.5,355.4 629.3,354.4 632.2,354.8 637.8,355.5" fill="#202b35" stroke="#465c6e" stroke-width="1.0" stroke-linejoin="round"/>
<polygon points="647.8,356.9 637.7,358.0 638.2,355.7 637.6,355.4 644.0,356.2 647.4,356.6" fill="#202b35" stroke="#465c6e" stroke-width="1.0" stroke-linejoin="round"/>
<polygon points="652.8,359.9 645.7,360.8 643.7,358.6 648.3,356.8 654.2,357.5 657.1,357.8" fill="#202b35" stroke="#465c6e" stroke-width="1.0" stroke-linejoin="round"/>
<polygon points="662.2,360.4 658.3,360.2 652.9,359.3 655.3,357.6 660.5,358.3 666.4,359.0" fill="#202b35" stroke="#465c6e" stroke-width="1.0" stroke-linejoin="round"/>
<polygon points="674.3,361.4 666.9,361.4 663.5,360.1 665.3,358.9 671.8,359.7 675.7,360.1" fill="#202b35" stroke="#465c6e" stroke-width="1.0" stroke-linejoin="round"/>
<polygon points="684.0,362.0 675.1,362.6 672.4,361.0 676.3,360.2 679.6,360.6 685.4,361.3" fill="#202b35" stroke="#465c6e" stroke-width="1.0" stroke-linejoin="round"/>
<polygon points="694.3,364.4 684.7,365.6 680.5,364.0 684.3,361.2 692.0,362.2 696.5,362.7" fill="#202b35" stroke="#465c6e" stroke-width="1.0" stroke-linejoin="round"/>
<polygon points="700.8,365.9 695.5,366.6 691.5,364.7 696.1,362.7 700.5,363.2 707.1,364.0" fill="#202b35" stroke="#465c6e" stroke-width="1.0" stroke-linejoin="round"/>
<polygon points="718.0,366.6 708.8,367.4 707.1,365.1 709.6,364.3 715.5,365.1 719.6,365.6" fill="#202b35" stroke="#465c6e" stroke-width="1.0" stroke-linejoin="round"/>
<polygon points="719.0,368.0 713.7,369.6 710.6,367.6 716.3,365.2 723.0,366.0 723.0,366.0" fill="#202b35" stroke="#465c6e" stroke-width="1.0" stroke-linejoin="round"/>
<polygon points="516.6,345.9 514.3,346.6 516.1,346.1 525.9,343.0 529.0,342.0 525.0,343.2" fill="#202b35" stroke="#465c6e" stroke-width="1.0" stroke-linejoin="round"/>
<polygon points="526.1,347.4 518.4,348.2 516.1,346.1 521.6,344.8 532.1,343.7 533.3,344.9" fill="#202b35" stroke="#465c6e" stroke-width="1.0" stroke-linejoin="round"/>
<polygon points="534.0,349.7 528.6,349.5 528.4,347.5 533.5,345.5 542.7,344.4 545.4,346.3" fill="#202b35" stroke="#465c6e" stroke-width="1.0" stroke-linejoin="round"/>
<polygon points="544.7,350.8 535.8,351.6 535.1,349.2 542.7,346.9 549.1,347.5 553.0,348.1" fill="#202b35" stroke="#465c6e" stroke-width="1.0" stroke-linejoin="round"/>
<polygon points="557.5,351.9 547.9,352.4 545.8,350.6 553.6,348.7 562.5,348.2 563.2,349.7" fill="#202b35" stroke="#465c6e" stroke-width="1.0" stroke-linejoin="round"/>
<polygon points="564.5,353.9 555.4,354.1 555.0,351.5 560.2,350.0 570.2,349.7 570.3,351.5" fill="#202b35" stroke="#465c6e" stroke-width="1.0" stroke-linejoin="round"/>
<polygon points="577.8,354.3 569.9,354.6 566.4,352.9 574.3,350.1 582.8,349.7 585.4,351.1" fill="#202b35" stroke="#465c6e" stroke-width="1.0" stroke-linejoin="round"/>
<polygon points="590.7,354.5 583.3,355.4 579.6,352.9 583.0,351.6 593.1,351.4 598.4,352.4" fill="#202b35" stroke="#465c6e" stroke-width="1.0" stroke-linejoin="round"/>
<polygon points="601.3,356.6 589.1,358.3 589.9,355.2 595.4,352.3 601.7,352.6 606.3,354.6" fill="#202b35" stroke="#465c6e" stroke-width="1.0" stroke-linejoin="round"/>
<polygon points="607.3,358.7 601.4,358.6 600.9,356.5 605.3,354.7 613.7,354.4 612.8,356.8" fill="#202b35" stroke="#465c6e" stroke-width="1.0" stroke-linejoin="round"/>
<polygon points="618.1,359.8 611.1,360.2 607.7,358.7 610.9,356.8 618.9,356.3 624.4,357.0" fill="#202b35" stroke="#465c6e" stroke-width="1.0" stroke-linejoin="round"/>
<polygon points="628.2,361.0 621.3,361.0 616.7,359.3 623.2,357.2 632.0,356.9 632.2,359.1" fill="#202b35" stroke="#465c6e" stroke-width="1.0" stroke-linejoin="round"/>
<polygon points="641.2,361.9 633.3,362.3 630.4,360.0 634.3,358.5 641.7,357.9 646.5,358.8" fill="#202b35" stroke="#465c6e" stroke-width="1.0" stroke-linejoin="round"/>
<polygon points="649.4,363.7 639.2,364.6 636.9,363.1 644.0,360.0 652.0,359.0 653.8,361.8" fill="#202b35" stroke="#465c6e" stroke-width="1.0" stroke-linejoin="round"/>
<polygon points="663.1,364.2 652.0,366.0 651.9,362.9 657.0,360.7 668.4,359.3 668.3,361.3" fill="#202b35" stroke="#465c6e" stroke-width="1.0" stroke-linejoin="round"/>
<polygon points="667.1,366.6 663.6,366.2 662.3,364.4 663.9,363.0 673.1,362.1 675.8,363.0" fill="#202b35" stroke="#465c6e" stroke-width="1.0" stroke-linejoin="round"/>
<polygon points="681.4,366.7 674.7,368.0 672.3,365.9 679.5,362.6 686.6,362.3 687.2,365.0" fill="#202b35" stroke="#465c6e" stroke-width="1.0" stroke-linejoin="round"/>
<polygon points="689.8,369.2 682.7,370.1 679.3,368.1 685.6,365.1 694.5,364.0 698.3,365.7" fill="#202b35" stroke="#465c6e" stroke-width="1.0" stroke-linejoin="round"/>
<polygon points="700.2,370.5 691.5,371.5 688.7,369.5 697.5,366.1 703.5,366.1 706.3,367.7" fill="#202b35" stroke="#465c6e" stroke-width="1.0" stroke-linejoin="round"/>
<polygon points="712.2,371.3 708.9,370.9 705.0,369.7 710.6,367.2 717.2,367.0 718.9,368.0" fill="#202b35" stroke="#465c6e" stroke-width="1.0" stroke-linejoin="round"/>
<polygon points="713.9,370.5 710.5,372.2 713.5,370.7 719.7,367.6 721.3,366.9 718.7,368.1" fill="#202b35" stroke="#465c6e" stroke-width="1.0" stroke-linejoin="round"/>
<polygon points="506.2,349.2 501.5,350.6 506.5,349.1 512.0,347.3 517.3,345.7 514.2,346.6" fill="#202b35" stroke="#465c6e" stroke-width="1.0" stroke-linejoin="round"/>
<polygon points="513.0,350.6 502.1,351.1 503.5,350.0 511.2,347.6 518.2,346.0 519.5,347.9" fill="#202b35" stroke="#465c6e" stroke-width="1.0" stroke-linejoin="round"/>
<polygon points="521.6,350.6 512.8,351.2 510.0,349.7 514.9,347.9 528.2,346.6 527.3,349.4" fill="#202b35" stroke="#465c6e" stroke-width="1.0" stroke-linejoin="round"/>
<polygon points="534.2,352.2 524.7,353.7 522.9,350.8 529.4,348.6 539.9,348.5 538.5,350.9" fill="#202b35" stroke="#465c6e" stroke-width="1.0" stroke-linejoin="round"/>
<polygon points="544.2,354.6 534.6,355.2 534.3,352.5 539.8,350.5 549.7,349.9 551.9,352.1" fill="#202b35" stroke="#465c6e" stroke-width="1.0" stroke-linejoin="round"/>
<polygon points="550.2,355.1 542.3,355.7 541.6,354.1 551.3,351.2 557.6,351.2 557.5,353.2" fill="#202b35" stroke="#465c6e" stroke-width="1.0" stroke-linejoin="round"/>
<polygon points="561.9,357.4 556.4,357.5 552.7,356.3 562.4,353.2 570.8,352.8 569.5,355.1" fill="#202b35" stroke="#465c6e" stroke-width="1.0" stroke-linejoin="round"/>
<polygon points="571.7,358.5 561.6,359.0 561.1,356.8 566.0,354.7 573.4,354.8 575.0,356.6" fill="#202b35" stroke="#465c6e" stroke-width="1.0" stroke-linejoin="round"/>
<polygon points="582.9,360.2 575.4,360.3 572.8,358.2 578.9,356.3 589.6,355.0 588.1,357.9" fill="#202b35" stroke="#465c6e" stroke-width="1.0" stroke-linejoin="round"/>
<polygon points="593.3,360.9 587.5,361.1 584.9,359.8 591.0,357.3 598.5,357.0 600.6,358.6" fill="#202b35" stroke="#465c6e" stroke-width="1.0" stroke-linejoin="round"/>
<polygon points="602.2,362.3 591.3,363.7 592.1,361.8 597.2,359.2 607.7,358.3 609.0,359.8" fill="#202b35" stroke="#465c6e" stroke-width="1.0" stroke-linejoin="round"/>
<polygon points="617.1,363.3 607.8,363.8 602.3,362.7 609.7,360.4 620.9,358.5 620.6,361.2" fill="#202b35" stroke="#465c6e" stroke-width="1.0" stroke-linejoin="round"/>
<polygon points="623.8,366.3 617.4,366.2 615.2,364.0 622.6,361.9 631.6,361.4 633.4,363.3" fill="#202b35" stroke="#465c6e" stroke-width="1.0" stroke-linejoin="round"/>
<polygon points="632.9,366.1 624.0,368.0 622.6,366.0 627.8,362.9 637.9,362.1 640.6,363.9" fill="#202b35" stroke="#465c6e" stroke-width="1.0" stroke-linejoin="round"/>
<polygon points="646.1,368.9 639.3,368.5 639.4,366.8 643.9,365.1 649.5,364.1 652.3,366.0" fill="#202b35" stroke="#465c6e" stroke-width="1.0" stroke-linejoin="round"/>
<polygon points="658.8,369.3 650.4,369.4 646.6,368.3 653.7,365.2 662.7,363.8 665.1,366.9" fill="#202b35" stroke="#465c6e" stroke-width="1.0" stroke-linejoin="round"/>
<polygon points="668.9,371.2 659.4,371.7 658.9,369.5 664.6,366.7 673.2,366.2 676.3,367.1" fill="#202b35" stroke="#465c6e" stroke-width="1.0" stroke-linejoin="round"/>
<polygon points="678.8,371.6 667.7,373.4 666.4,370.9 670.6,368.2 680.9,367.3 684.4,369.0" fill="#202b35" stroke="#465c6e" stroke-width="1.0" stroke-linejoin="round"/>
<polygon points="686.0,374.1 677.4,373.9 675.8,371.9 680.7,369.0 688.7,369.4 693.2,370.3" fill="#202b35" stroke="#465c6e" stroke-width="1.0" stroke-linejoin="round"/>
<polygon points="698.0,376.2 690.5,376.2 689.7,373.8 694.7,370.8 703.1,370.5 704.5,372.5" fill="#202b35" stroke="#465c6e" stroke-width="1.0" stroke-linejoin="round"/>
<polygon points="705.3,374.7 700.0,377.3 698.5,374.8 705.8,371.5 714.2,369.7 709.5,372.6" fill="#202b35" stroke="#465c6e" stroke-width="1.0" stroke-linejoin="round"/>
<polygon points="491.9,353.6 488.5,354.7 494.5,352.8 502.4,350.4 506.7,349.0 501.0,350.8" fill="#202b35" stroke="#465c6e" stroke-width="1.0" stroke-linejoin="round"/>
<polygon points="505.2,354.7 497.8,354.7 496.6,353.0 502.2,350.8 513.0,350.5 514.5,352.1" fill="#202b35" stroke="#465c6e" stroke-width="1.0" stroke-linejoin="round"/>
<polygon points="513.1,355.7 502.1,356.8 500.8,355.1 505.4,352.7 516.8,352.5 522.5,353.7" fill="#202b35" stroke="#465c6e" stroke-width="1.0" stroke-linejoin="round"/>
<polygon points="523.2,357.5 516.4,357.5 512.5,355.5 518.5,353.3 529.1,352.6 529.8,355.1" fill="#202b35" stroke="#465c6e" stroke-width="1.0" stroke-linejoin="round"/>
<polygon points="535.8,358.2 525.7,359.3 526.3,356.8 531.3,354.6 537.5,355.3 540.1,356.3" fill="#202b35" stroke="#465c6e" stroke-width="1.0" stroke-linejoin="round"/>
<polygon points="545.2,359.9 534.4,361.0 535.9,358.5 543.3,356.3 551.4,355.5 550.3,358.2" fill="#202b35" stroke="#465c6e" stroke-width="1.0" stroke-linejoin="round"/>
<polygon points="560.6,360.5 552.6,360.8 548.1,359.8 553.5,357.1 562.8,356.4 564.4,358.3" fill="#202b35" stroke="#465c6e" stroke-width="1.0" stroke-linejoin="round"/>
<polygon points="567.6,364.1 558.8,364.1 555.3,362.6 561.1,360.2 573.1,359.2 572.9,361.8" fill="#202b35" stroke="#465c6e" stroke-width="1.0" stroke-linejoin="round"/>
<polygon points="578.6,364.0 570.8,364.1 569.0,362.9 577.2,359.2 583.9,359.2 587.5,360.9" fill="#202b35" stroke="#465c6e" stroke-width="1.0" stroke-linejoin="round"/>
<polygon points="589.1,365.4 576.8,366.6 575.6,364.5 581.5,361.9 591.2,361.4 595.8,363.2" fill="#202b35" stroke="#465c6e" stroke-width="1.0" stroke-linejoin="round"/>
<polygon points="596.7,367.0 588.6,368.1 585.3,365.8 594.7,362.7 601.8,362.5 604.6,364.2" fill="#202b35" stroke="#465c6e" stroke-width="1.0" stroke-linejoin="round"/>
<polygon points="612.0,368.9 604.3,368.9 598.7,368.2 605.2,365.1 614.1,364.7 614.3,367.1" fill="#202b35" stroke="#465c6e" stroke-width="1.0" stroke-linejoin="round"/>
<polygon points="623.0,368.6 611.5,369.8 612.2,367.1 617.1,365.6 624.0,365.2 624.2,367.1" fill="#202b35" stroke="#465c6e" stroke-width="1.0" stroke-linejoin="round"/>
<polygon points="634.2,370.4 625.1,371.1 622.9,369.4 632.2,366.5 637.3,366.5 637.7,368.4" fill="#202b35" stroke="#465c6e" stroke-width="1.0" stroke-linejoin="round"/>
<polygon points="644.4,372.7 635.6,374.2 634.0,371.1 640.1,368.5 649.0,368.4 650.6,370.5" fill="#202b35" stroke="#465c6e" stroke-width="1.0" stroke-linejoin="round"/>
<polygon points="657.1,373.6 645.9,374.8 644.2,372.4 650.7,369.2 661.7,367.9 659.7,371.3" fill="#202b35" stroke="#465c6e" stroke-width="1.0" stroke-linejoin="round"/>
<polygon points="662.9,377.1 652.8,377.2 650.9,375.1 657.9,372.0 667.9,371.6 668.9,373.4" fill="#202b35" stroke="#465c6e" stroke-width="1.0" stroke-linejoin="round"/>
<polygon points="673.7,376.9 663.3,378.7 663.0,375.7 667.6,373.6 675.8,372.2 677.4,374.4" fill="#202b35" stroke="#465c6e" stroke-width="1.0" stroke-linejoin="round"/>
<polygon points="683.9,378.3 677.4,378.4 676.3,376.1 680.7,374.0 687.3,373.7 690.4,375.0" fill="#202b35" stroke="#465c6e" stroke-width="1.0" stroke-linejoin="round"/>
<polygon points="696.8,378.4 685.6,380.3 683.7,377.7 690.6,374.7 699.8,374.3 702.3,376.0" fill="#202b35" stroke="#465c6e" stroke-width="1.0" stroke-linejoin="round"/>
<polygon points="694.6,380.0 693.1,380.7 690.7,380.5 699.3,377.0 702.3,376.2 699.0,377.8" fill="#202b35" stroke="#465c6e" stroke-width="1.0" stroke-linejoin="round"/>
<polygon points="481.2,357.0 477.3,358.2 480.6,357.2 488.4,354.7 492.6,353.4 489.8,354.3" fill="#202b35" stroke="#465c6e" stroke-width="1.0" stroke-linejoin="round"/>
<polygon points="490.7,357.6 481.0,357.8 482.3,356.7 491.2,353.9 497.1,352.9 496.4,355.2" fill="#202b35" stroke="#465c6e" stroke-width="1.0" stroke-linejoin="round"/>
<polygon points="502.2,358.0 492.8,358.9 488.3,357.4 495.5,355.4 504.8,355.4 507.3,356.2" fill="#202b35" stroke="#465c6e" stroke-width="1.0" stroke-linejoin="round"/>
<polygon points="511.5,359.9 505.4,360.1 505.0,358.3 510.3,356.1 519.3,355.1 520.9,356.9" fill="#202b35" stroke="#465c6e" stroke-width="1.0" stroke-linejoin="round"/>
<polygon points="522.8,361.5 514.2,362.0 511.2,360.9 518.2,358.1 524.9,358.5 528.3,359.6" fill="#202b35" stroke="#465c6e" stroke-width="1.0" stroke-linejoin="round"/>
<polygon points="534.2,362.8 522.2,363.7 522.7,361.7 530.9,359.3 541.1,357.5 540.7,359.9" fill="#202b35" stroke="#465c6e" stroke-width="1.0" stroke-linejoin="round"/>
<polygon points="543.8,363.7 535.4,364.7 532.5,362.2 541.7,359.9 550.8,358.9 548.3,361.7" fill="#202b35" stroke="#465c6e" stroke-width="1.0" stroke-linejoin="round"/>
<polygon points="553.4,365.6 544.5,366.5 543.7,364.8 550.5,361.6 555.8,361.8 559.5,362.8" fill="#202b35" stroke="#465c6e" stroke-width="1.0" stroke-linejoin="round"/>
<polygon points="565.1,366.6 551.5,367.7 549.9,365.7 558.8,362.5 568.0,361.9 570.3,364.8" fill="#202b35" stroke="#465c6e" stroke-width="1.0" stroke-linejoin="round"/>
<polygon points="575.1,368.5 567.7,368.7 565.2,366.6 567.1,365.1 579.1,364.2 579.9,366.6" fill="#202b35" stroke="#465c6e" stroke-width="1.0" stroke-linejoin="round"/>
<polygon points="586.8,370.0 574.5,370.8 572.6,368.2 580.1,366.1 590.0,365.3 590.9,367.4" fill="#202b35" stroke="#465c6e" stroke-width="1.0" stroke-linejoin="round"/>
<polygon points="591.7,371.8 584.5,372.4 582.9,369.9 590.4,367.9 597.8,366.9 599.5,368.9" fill="#202b35" stroke="#465c6e" stroke-width="1.0" stroke-linejoin="round"/>
<polygon points="606.1,372.3 594.7,373.6 593.3,371.2 599.5,369.6 607.3,368.3 610.8,370.3" fill="#202b35" stroke="#465c6e" stroke-width="1.0" stroke-linejoin="round"/>
<polygon points="620.4,374.2 610.1,375.0 606.8,373.2 615.6,370.0 623.1,369.7 625.1,372.2" fill="#202b35" stroke="#465c6e" stroke-width="1.0" stroke-linejoin="round"/>
<polygon points="627.8,375.5 618.6,376.2 615.8,373.9 621.7,371.1 631.3,371.1 634.1,372.6" fill="#202b35" stroke="#465c6e" stroke-width="1.0" stroke-linejoin="round"/>
<polygon points="639.2,376.7 631.9,377.0 630.1,375.4 633.0,373.7 642.2,373.2 647.3,374.2" fill="#202b35" stroke="#465c6e" stroke-width="1.0" stroke-linejoin="round"/>
<polygon points="650.1,377.9 641.1,379.0 637.1,376.9 644.4,373.9 654.4,372.5 656.6,375.7" fill="#202b35" stroke="#465c6e" stroke-width="1.0" stroke-linejoin="round"/>
<polygon points="661.8,379.0 655.9,379.3 651.8,378.3 656.2,376.1 664.8,375.5 666.8,376.8" fill="#202b35" stroke="#465c6e" stroke-width="1.0" stroke-linejoin="round"/>
<polygon points="672.3,381.4 661.0,382.8 663.5,379.7 668.8,376.7 677.6,376.1 677.5,379.0" fill="#202b35" stroke="#465c6e" stroke-width="1.0" stroke-linejoin="round"/>
<polygon points="680.3,383.0 668.2,384.5 666.9,382.4 674.4,379.3 683.3,378.4 686.2,379.6" fill="#202b35" stroke="#465c6e" stroke-width="1.0" stroke-linejoin="round"/>
<polygon points="685.9,384.3 682.6,385.8 683.6,383.0 687.2,380.9 696.1,379.2 694.4,380.1" fill="#202b35" stroke="#465c6e" stroke-width="1.0" stroke-linejoin="round"/>
<polygon points="473.0,359.6 471.4,360.1 473.7,359.4 478.8,357.7 484.6,355.9 481.8,356.8" fill="#202b35" stroke="#465c6e" stroke-width="1.0" stroke-linejoin="round"/>
<polygon points="487.3,360.6 475.9,361.4 472.8,359.6 483.0,356.7 490.2,356.5 493.4,358.0" fill="#202b35" stroke="#465c6e" stroke-width="1.0" stroke-linejoin="round"/>
<polygon points="495.2,361.7 486.7,362.2 484.7,359.8 487.9,358.7 502.2,357.5 501.1,360.4" fill="#202b35" stroke="#465c6e" stroke-width="1.0" stroke-linejoin="round"/>
<polygon points="506.5,363.5 495.9,364.3 496.5,362.2 503.9,360.1 512.5,359.0 515.0,360.6" fill="#202b35" stroke="#465c6e" stroke-width="1.0" stroke-linejoin="round"/>
<polygon points="515.5,366.4 510.4,366.0 505.7,365.0 513.6,362.3 518.6,362.3 522.5,363.6" fill="#202b35" stroke="#465c6e" stroke-width="1.0" stroke-linejoin="round"/>
<polygon points="527.4,366.8 518.8,367.5 515.9,365.8 524.2,363.2 533.4,362.3 534.2,364.7" fill="#202b35" stroke="#465c6e" stroke-width="1.0" stroke-linejoin="round"/>
<polygon points="537.8,368.0 526.1,368.7 523.9,367.2 529.6,365.0 540.0,364.7 542.3,365.7" fill="#202b35" stroke="#465c6e" stroke-width="1.0" stroke-linejoin="round"/>
<polygon points="548.8,370.2 540.5,371.1 538.8,368.2 544.9,366.3 554.3,365.4 555.4,367.3" fill="#202b35" stroke="#465c6e" stroke-width="1.0" stroke-linejoin="round"/>
<polygon points="557.8,373.1 547.7,373.3 544.3,370.7 554.3,367.7 561.6,368.0 564.9,369.8" fill="#202b35" stroke="#465c6e" stroke-width="1.0" stroke-linejoin="round"/>
<polygon points="569.9,372.7 563.7,372.2 560.0,370.8 565.3,368.7 573.4,368.6 577.8,369.9" fill="#202b35" stroke="#465c6e" stroke-width="1.0" stroke-linejoin="round"/>
<polygon points="580.8,374.5 569.7,374.9 567.5,373.1 574.8,370.6 583.6,370.1 584.5,372.6" fill="#202b35" stroke="#465c6e" stroke-width="1.0" stroke-linejoin="round"/>
<polygon points="590.8,375.7 581.9,376.5 578.0,374.7 588.7,371.2 595.8,371.1 593.9,373.5" fill="#202b35" stroke="#465c6e" stroke-width="1.0" stroke-linejoin="round"/>
<polygon points="601.2,377.4 594.5,377.9 592.9,376.2 597.3,374.0 605.2,373.6 607.2,375.7" fill="#202b35" stroke="#465c6e" stroke-width="1.0" stroke-linejoin="round"/>
<polygon points="614.6,379.4 604.8,380.2 603.5,377.5 605.9,375.8 616.2,375.6 617.6,377.2" fill="#202b35" stroke="#465c6e" stroke-width="1.0" stroke-linejoin="round"/>
<polygon points="624.0,380.6 615.3,380.1 610.5,379.0 618.6,375.8 625.8,375.2 630.6,377.5" fill="#202b35" stroke="#465c6e" stroke-width="1.0" stroke-linejoin="round"/>
<polygon points="634.5,382.1 627.5,382.5 624.5,380.8 630.3,377.2 638.7,376.9 642.3,379.7" fill="#202b35" stroke="#465c6e" stroke-width="1.0" stroke-linejoin="round"/>
<polygon points="645.4,382.8 634.6,383.9 632.2,381.7 641.6,377.9 649.5,377.4 652.5,380.3" fill="#202b35" stroke="#465c6e" stroke-width="1.0" stroke-linejoin="round"/>
<polygon points="656.4,384.0 648.9,384.0 646.2,382.5 650.3,379.9 662.0,378.9 660.2,381.6" fill="#202b35" stroke="#465c6e" stroke-width="1.0" stroke-linejoin="round"/>
<polygon points="667.8,386.0 659.2,387.3 655.5,384.3 661.8,382.5 670.6,381.6 673.8,383.2" fill="#202b35" stroke="#465c6e" stroke-width="1.0" stroke-linejoin="round"/>
<polygon points="677.8,388.3 667.6,389.7 664.5,387.1 670.9,383.8 681.7,382.3 683.5,385.1" fill="#202b35" stroke="#465c6e" stroke-width="1.0" stroke-linejoin="round"/>
<polygon points="679.2,387.6 677.6,388.4 678.9,387.7 683.8,385.3 687.6,383.5 684.6,384.9" fill="#202b35" stroke="#465c6e" stroke-width="1.0" stroke-linejoin="round"/>
<polygon points="459.9,363.7 459.0,364.0 461.2,363.3 470.0,360.5 473.8,359.3 471.1,360.2" fill="#202b35" stroke="#465c6e" stroke-width="1.0" stroke-linejoin="round"/>
<polygon points="466.7,363.3 457.5,364.4 461.9,363.1 467.7,361.2 471.7,360.4 471.5,362.0" fill="#202b35" stroke="#465c6e" stroke-width="1.0" stroke-linejoin="round"/>
<polygon points="481.2,365.4 471.3,365.6 468.8,364.6 476.6,362.2 486.3,360.8 487.4,363.3" fill="#202b35" stroke="#465c6e" stroke-width="1.0" stroke-linejoin="round"/>
<polygon points="490.7,366.0 481.9,366.7 478.4,365.3 484.4,363.0 490.3,363.2 493.6,365.2" fill="#202b35" stroke="#465c6e" stroke-width="1.0" stroke-linejoin="round"/>
<polygon points="499.5,367.5 488.3,368.5 485.4,366.6 493.8,364.2 503.3,364.0 505.8,366.0" fill="#202b35" stroke="#465c6e" stroke-width="1.0" stroke-linejoin="round"/>
<polygon points="509.4,370.4 499.6,370.7 500.9,368.6 506.2,366.0 517.9,365.2 515.8,367.2" fill="#202b35" stroke="#465c6e" stroke-width="1.0" stroke-linejoin="round"/>
<polygon points="520.2,372.1 513.3,371.7 511.9,369.7 518.8,367.7 525.7,367.4 530.4,368.6" fill="#202b35" stroke="#465c6e" stroke-width="1.0" stroke-linejoin="round"/>
<polygon points="530.5,373.1 521.1,373.6 519.8,371.3 524.8,369.3 535.9,368.5 540.9,370.4" fill="#202b35" stroke="#465c6e" stroke-width="1.0" stroke-linejoin="round"/>
<polygon points="549.9,373.5 539.0,374.2 535.5,373.0 543.7,369.6 551.5,369.2 554.6,371.2" fill="#202b35" stroke="#465c6e" stroke-width="1.0" stroke-linejoin="round"/>
<polygon points="556.1,375.8 546.5,375.9 542.1,375.0 547.2,372.3 558.9,371.6 559.6,373.6" fill="#202b35" stroke="#465c6e" stroke-width="1.0" stroke-linejoin="round"/>
<polygon points="569.1,377.4 562.3,377.5 559.3,375.6 564.0,373.7 571.6,373.0 577.9,374.6" fill="#202b35" stroke="#465c6e" stroke-width="1.0" stroke-linejoin="round"/>
<polygon points="580.2,377.8 571.0,377.8 564.0,376.5 570.5,373.8 580.2,374.4 582.7,376.7" fill="#202b35" stroke="#465c6e" stroke-width="1.0" stroke-linejoin="round"/>
<polygon points="586.4,379.9 577.9,380.3 576.3,377.6 584.2,375.6 593.8,374.7 595.3,376.8" fill="#202b35" stroke="#465c6e" stroke-width="1.0" stroke-linejoin="round"/>
<polygon points="601.2,381.6 591.6,381.5 587.7,380.4 595.2,377.1 603.1,377.9 607.4,378.9" fill="#202b35" stroke="#465c6e" stroke-width="1.0" stroke-linejoin="round"/>
<polygon points="609.6,382.7 602.5,383.1 597.9,381.5 605.3,379.3 612.0,379.0 614.5,381.2" fill="#202b35" stroke="#465c6e" stroke-width="1.0" stroke-linejoin="round"/>
<polygon points="623.6,385.1 613.9,385.4 609.2,384.2 616.1,381.0 627.6,380.2 628.6,382.3" fill="#202b35" stroke="#465c6e" stroke-width="1.0" stroke-linejoin="round"/>
<polygon points="630.3,386.8 621.0,387.0 620.3,384.9 628.6,381.6 638.7,380.5 637.0,383.8" fill="#202b35" stroke="#465c6e" stroke-width="1.0" stroke-linejoin="round"/>
<polygon points="643.3,388.8 633.7,389.0 630.8,386.6 636.3,384.4 644.7,383.9 650.1,385.5" fill="#202b35" stroke="#465c6e" stroke-width="1.0" stroke-linejoin="round"/>
<polygon points="656.2,389.7 647.5,389.6 641.2,388.3 649.2,385.2 657.3,385.1 661.8,386.3" fill="#202b35" stroke="#465c6e" stroke-width="1.0" stroke-linejoin="round"/>
<polygon points="666.0,392.3 656.5,392.0 654.6,390.6 661.2,386.3 670.5,385.6 671.1,388.9" fill="#202b35" stroke="#465c6e" stroke-width="1.0" stroke-linejoin="round"/>
<polygon points="669.8,392.2 667.7,393.3 665.6,391.8 669.8,388.7 678.3,387.9 676.3,389.1" fill="#202b35" stroke="#465c6e" stroke-width="1.0" stroke-linejoin="round"/>
<polygon points="454.8,365.3 449.1,367.1 453.8,365.6 458.3,364.2 462.3,362.9 460.7,363.4" fill="#202b35" stroke="#465c6e" stroke-width="1.0" stroke-linejoin="round"/>
<polygon points="461.4,367.7 452.0,368.4 451.7,366.3 457.0,364.6 466.8,363.7 467.7,366.3" fill="#202b35" stroke="#465c6e" stroke-width="1.0" stroke-linejoin="round"/>
<polygon points="472.9,369.5 460.6,370.0 459.7,367.9 465.3,366.2 478.5,365.0 478.9,367.4" fill="#202b35" stroke="#465c6e" stroke-width="1.0" stroke-linejoin="round"/>
<polygon points="485.1,371.2 475.0,371.6 473.3,369.9 481.0,367.3 487.0,367.0 489.9,369.2" fill="#202b35" stroke="#465c6e" stroke-width="1.0" stroke-linejoin="round"/>
<polygon points="501.2,371.5 488.9,372.3 490.6,369.9 494.5,368.7 504.4,367.5 505.6,369.8" fill="#202b35" stroke="#465c6e" stroke-width="1.0" stroke-linejoin="round"/>
<polygon points="505.9,374.5 498.2,374.7 496.1,373.0 501.7,370.2 509.5,370.4 513.8,372.3" fill="#202b35" stroke="#465c6e" stroke-width="1.0" stroke-linejoin="round"/>
<polygon points="518.6,375.6 510.6,375.2 507.4,373.4 515.9,370.8 524.7,370.4 525.1,372.7" fill="#202b35" stroke="#465c6e" stroke-width="1.0" stroke-linejoin="round"/>
<polygon points="526.8,377.3 518.4,377.7 516.4,375.4 523.3,373.5 529.8,373.9 533.4,375.2" fill="#202b35" stroke="#465c6e" stroke-width="1.0" stroke-linejoin="round"/>
<polygon points="543.0,379.0 532.3,379.3 529.9,377.1 534.7,375.4 545.1,375.2 548.7,376.9" fill="#202b35" stroke="#465c6e" stroke-width="1.0" stroke-linejoin="round"/>
<polygon points="549.9,380.6 544.2,380.2 540.1,379.0 550.7,376.1 559.1,375.1 559.7,377.9" fill="#202b35" stroke="#465c6e" stroke-width="1.0" stroke-linejoin="round"/>
<polygon points="565.0,380.8 553.9,381.2 551.1,379.3 555.0,377.6 564.3,377.3 567.0,379.1" fill="#202b35" stroke="#465c6e" stroke-width="1.0" stroke-linejoin="round"/>
<polygon points="576.6,383.2 569.0,383.5 565.0,382.4 571.2,379.9 577.6,379.4 579.0,381.5" fill="#202b35" stroke="#465c6e" stroke-width="1.0" stroke-linejoin="round"/>
<polygon points="584.4,386.2 575.6,386.9 573.4,384.1 580.8,382.2 590.2,380.9 591.2,383.0" fill="#202b35" stroke="#465c6e" stroke-width="1.0" stroke-linejoin="round"/>
<polygon points="593.9,387.5 588.5,388.2 585.8,386.4 591.6,382.7 601.4,382.0 603.9,384.2" fill="#202b35" stroke="#465c6e" stroke-width="1.0" stroke-linejoin="round"/>
<polygon points="606.6,388.0 600.3,389.0 599.6,386.0 605.7,383.5 613.8,382.9 614.6,385.2" fill="#202b35" stroke="#465c6e" stroke-width="1.0" stroke-linejoin="round"/>
<polygon points="618.1,389.7 608.4,390.9 607.6,387.8 609.7,386.4 618.7,385.3 623.1,386.8" fill="#202b35" stroke="#465c6e" stroke-width="1.0" stroke-linejoin="round"/>
<polygon points="630.4,390.5 621.9,391.0 618.5,388.8 625.5,386.8 635.6,385.5 636.8,388.4" fill="#202b35" stroke="#465c6e" stroke-width="1.0" stroke-linejoin="round"/>
<polygon points="643.1,392.8 633.7,392.9 629.3,391.5 633.3,389.5 642.3,388.6 645.7,390.7" fill="#202b35" stroke="#465c6e" stroke-width="1.0" stroke-linejoin="round"/>
<polygon points="649.7,395.6 641.9,395.4 640.8,394.0 645.3,391.3 652.7,391.0 653.6,392.8" fill="#202b35" stroke="#465c6e" stroke-width="1.0" stroke-linejoin="round"/>
<polygon points="661.4,396.1 653.4,396.0 651.6,393.8 656.7,391.5 664.0,392.1 667.3,393.3" fill="#202b35" stroke="#465c6e" stroke-width="1.0" stroke-linejoin="round"/>
<polygon points="661.7,396.2 656.7,398.7 662.0,396.1 667.2,393.4 668.5,392.9 666.1,394.1" fill="#202b35" stroke="#465c6e" stroke-width="1.0" stroke-linejoin="round"/>
<polygon points="439.0,370.3 435.9,371.2 439.0,370.2 446.8,367.8 450.4,366.7 446.5,367.9" fill="#202b35" stroke="#465c6e" stroke-width="1.0" stroke-linejoin="round"/>
<polygon points="446.7,370.3 437.3,370.8 440.4,369.8 446.3,368.0 450.7,366.6 451.0,368.8" fill="#202b35" stroke="#465c6e" stroke-width="1.0" stroke-linejoin="round"/>
<polygon points="456.8,372.5 450.3,372.6 445.1,371.1 455.6,368.0 464.3,367.7 463.1,370.5" fill="#202b35" stroke="#465c6e" stroke-width="1.0" stroke-linejoin="round"/>
<polygon points="468.9,373.1 460.7,374.0 459.1,371.2 463.4,369.8 472.8,369.5 477.9,370.9" fill="#202b35" stroke="#465c6e" stroke-width="1.0" stroke-linejoin="round"/>
<polygon points="482.0,375.0 475.6,374.3 472.5,373.0 479.6,370.7 485.7,371.1 488.6,373.0" fill="#202b35" stroke="#465c6e" stroke-width="1.0" stroke-linejoin="round"/>
<polygon points="488.8,376.2 481.8,377.4 480.6,375.1 486.8,372.4 493.0,373.0 496.2,374.3" fill="#202b35" stroke="#465c6e" stroke-width="1.0" stroke-linejoin="round"/>
<polygon points="504.8,378.9 497.1,379.1 492.5,377.5 498.0,375.1 506.2,375.6 510.6,376.7" fill="#202b35" stroke="#465c6e" stroke-width="1.0" stroke-linejoin="round"/>
<polygon points="518.6,379.8 507.9,380.8 505.7,378.4 512.5,375.1 520.1,375.5 527.4,376.9" fill="#202b35" stroke="#465c6e" stroke-width="1.0" stroke-linejoin="round"/>
<polygon points="525.0,381.8 515.4,382.3 514.5,380.1 519.7,378.4 528.9,377.8 532.1,379.1" fill="#202b35" stroke="#465c6e" stroke-width="1.0" stroke-linejoin="round"/>
<polygon points="537.2,383.7 529.2,384.5 527.4,381.5 531.4,380.2 539.9,379.6 544.2,381.0" fill="#202b35" stroke="#465c6e" stroke-width="1.0" stroke-linejoin="round"/>
<polygon points="548.1,384.2 534.8,385.6 534.9,382.5 543.6,379.5 551.2,379.1 551.3,382.1" fill="#202b35" stroke="#465c6e" stroke-width="1.0" stroke-linejoin="round"/>
<polygon points="560.0,386.3 551.5,386.2 545.3,384.4 553.1,381.7 562.3,381.7 565.7,383.2" fill="#202b35" stroke="#465c6e" stroke-width="1.0" stroke-linejoin="round"/>
<polygon points="569.7,388.7 560.4,389.2 561.4,386.7 569.1,384.0 576.5,382.9 576.9,386.1" fill="#202b35" stroke="#465c6e" stroke-width="1.0" stroke-linejoin="round"/>
<polygon points="582.1,389.7 575.0,390.2 570.4,388.3 574.6,386.1 586.3,385.2 587.2,387.7" fill="#202b35" stroke="#465c6e" stroke-width="1.0" stroke-linejoin="round"/>
<polygon points="592.7,391.1 586.1,391.0 581.8,388.4 586.8,386.4 596.6,386.4 599.9,388.1" fill="#202b35" stroke="#465c6e" stroke-width="1.0" stroke-linejoin="round"/>
<polygon points="606.7,392.5 594.9,393.8 591.1,391.6 599.3,388.7 608.8,388.0 613.4,389.6" fill="#202b35" stroke="#465c6e" stroke-width="1.0" stroke-linejoin="round"/>
<polygon points="613.7,394.9 608.1,395.1 603.7,392.8 607.6,390.9 618.0,391.0 619.7,392.7" fill="#202b35" stroke="#465c6e" stroke-width="1.0" stroke-linejoin="round"/>
<polygon points="624.4,395.7 616.0,395.9 612.0,394.7 619.6,391.8 627.2,391.5 626.9,394.0" fill="#202b35" stroke="#465c6e" stroke-width="1.0" stroke-linejoin="round"/>
<polygon points="638.7,397.1 628.6,398.4 627.2,395.1 633.1,392.7 639.6,392.7 640.8,394.9" fill="#202b35" stroke="#465c6e" stroke-width="1.0" stroke-linejoin="round"/>
<polygon points="649.5,399.4 639.6,401.2 637.0,398.9 641.5,396.0 650.7,394.6 653.4,396.7" fill="#202b35" stroke="#465c6e" stroke-width="1.0" stroke-linejoin="round"/>
<polygon points="653.3,400.4 651.2,401.4 648.8,399.9 654.4,396.7 662.0,396.1 658.2,398.0" fill="#202b35" stroke="#465c6e" stroke-width="1.0" stroke-linejoin="round"/>
<polygon points="437.4,371.9 435.0,371.5 435.0,371.5 436.4,371.1 442.2,369.3 439.4,370.5" fill="#202b35" stroke="#465c6e" stroke-width="1.0" stroke-linejoin="round"/>
<polygon points="445.6,373.1 442.2,372.6 435.8,371.6 437.5,370.7 446.2,371.1 447.7,373.4" fill="#202b35" stroke="#465c6e" stroke-width="1.0" stroke-linejoin="round"/>
<polygon points="458.2,374.9 453.1,374.2 446.3,373.2 450.4,372.6 458.7,372.9 461.4,374.3" fill="#202b35" stroke="#465c6e" stroke-width="1.0" stroke-linejoin="round"/>
<polygon points="467.5,376.3 462.8,375.6 455.1,374.5 459.1,374.1 465.0,374.2 472.3,375.3" fill="#202b35" stroke="#465c6e" stroke-width="1.0" stroke-linejoin="round"/>
<polygon points="480.1,378.2 472.8,377.1 466.9,376.2 471.8,374.8 479.2,374.9 482.4,377.3" fill="#202b35" stroke="#465c6e" stroke-width="1.0" stroke-linejoin="round"/>
<polygon points="490.1,379.6 486.1,379.1 482.0,378.4 485.0,377.3 495.0,376.0 495.7,378.7" fill="#202b35" stroke="#465c6e" stroke-width="1.0" stroke-linejoin="round"/>
<polygon points="501.0,381.3 495.6,380.5 489.0,379.5 489.6,378.4 504.3,377.3 505.0,379.4" fill="#202b35" stroke="#465c6e" stroke-width="1.0" stroke-linejoin="round"/>
<polygon points="516.0,383.5 509.1,382.5 502.6,381.5 505.8,380.4 519.8,379.1 522.3,381.4" fill="#202b35" stroke="#465c6e" stroke-width="1.0" stroke-linejoin="round"/>
<polygon points="526.3,385.0 520.0,384.1 513.8,383.2 518.0,381.3 530.0,380.3 528.9,382.8" fill="#202b35" stroke="#465c6e" stroke-width="1.0" stroke-linejoin="round"/>
<polygon points="533.0,386.0 530.2,385.6 523.6,384.6 527.9,383.1 534.1,383.1 538.6,384.5" fill="#202b35" stroke="#465c6e" stroke-width="1.0" stroke-linejoin="round"/>
<polygon points="545.0,387.8 539.3,386.9 532.6,385.9 536.6,385.5 546.2,383.8 547.1,386.9" fill="#202b35" stroke="#465c6e" stroke-width="1.0" stroke-linejoin="round"/>
<polygon points="559.0,389.8 554.2,389.1 548.3,388.3 550.7,387.4 557.4,386.6 562.8,388.6" fill="#202b35" stroke="#465c6e" stroke-width="1.0" stroke-linejoin="round"/>
<polygon points="572.4,391.8 565.0,390.7 558.7,389.8 561.6,388.8 571.7,388.5 575.6,390.6" fill="#202b35" stroke="#465c6e" stroke-width="1.0" stroke-linejoin="round"/>
<polygon points="582.3,393.3 576.5,392.4 573.1,391.9 573.8,391.4 582.1,391.0 585.9,391.9" fill="#202b35" stroke="#465c6e" stroke-width="1.0" stroke-linejoin="round"/>
<polygon points="593.7,395.0 586.9,394.0 582.3,393.3 586.8,391.7 594.6,391.7 599.6,393.0" fill="#202b35" stroke="#465c6e" stroke-width="1.0" stroke-linejoin="round"/>
<polygon points="602.0,396.2 597.6,395.5 589.9,394.4 593.0,393.4 603.6,392.5 606.7,394.1" fill="#202b35" stroke="#465c6e" stroke-width="1.0" stroke-linejoin="round"/>
<polygon points="615.2,398.1 610.0,397.4 604.9,396.6 608.9,393.8 616.4,393.5 619.4,395.4" fill="#202b35" stroke="#465c6e" stroke-width="1.0" stroke-linejoin="round"/>
<polygon points="626.6,399.8 618.9,398.7 613.8,397.9 614.4,397.7 621.6,397.5 625.7,399.6" fill="#202b35" stroke="#465c6e" stroke-width="1.0" stroke-linejoin="round"/>
<polygon points="635.1,401.1 628.6,400.1 623.2,399.3 624.9,398.5 634.3,397.9 636.8,399.3" fill="#202b35" stroke="#465c6e" stroke-width="1.0" stroke-linejoin="round"/>
<polygon points="646.3,402.7 639.6,401.8 636.1,401.2 638.4,400.4 646.9,399.3 649.1,401.7" fill="#202b35" stroke="#465c6e" stroke-width="1.0" stroke-linejoin="round"/>
<polygon points="648.0,403.0 648.0,403.0 647.4,402.9 650.2,401.5 652.7,400.7 649.4,402.3" fill="#202b35" stroke="#465c6e" stroke-width="1.0" stroke-linejoin="round"/>
<line x1="435.0" y1="371.5" x2="434.1" y2="369.5" stroke="#4a5866" stroke-width="1.2"/>
<line x1="439.7" y1="370.0" x2="440.4" y2="368.7" stroke="#4a5866" stroke-width="1.2"/>
<line x1="444.4" y1="368.6" x2="443.5" y2="366.9" stroke="#4a5866" stroke-width="1.2"/>
<line x1="449.1" y1="367.1" x2="448.3" y2="365.4" stroke="#4a5866" stroke-width="1.2"/>
<line x1="453.8" y1="365.6" x2="454.2" y2="364.5" stroke="#4a5866" stroke-width="1.2"/>
<line x1="458.5" y1="364.1" x2="457.7" y2="362.4" stroke="#4a5866" stroke-width="1.2"/>
<line x1="463.2" y1="362.6" x2="462.5" y2="361.3" stroke="#4a5866" stroke-width="1.2"/>
<line x1="467.9" y1="361.2" x2="467.8" y2="360.0" stroke="#4a5866" stroke-width="1.2"/>
<line x1="472.6" y1="359.7" x2="471.7" y2="358.2" stroke="#4a5866" stroke-width="1.2"/>
<line x1="477.3" y1="358.2" x2="477.2" y2="355.8" stroke="#4a5866" stroke-width="1.2"/>
<line x1="482.0" y1="356.8" x2="482.1" y2="355.6" stroke="#4a5866" stroke-width="1.2"/>
<line x1="486.7" y1="355.3" x2="486.1" y2="353.2" stroke="#4a5866" stroke-width="1.2"/>
<line x1="491.4" y1="353.8" x2="491.5" y2="351.5" stroke="#4a5866" stroke-width="1.2"/>
<line x1="496.1" y1="352.3" x2="497.0" y2="350.0" stroke="#4a5866" stroke-width="1.2"/>
<line x1="500.8" y1="350.9" x2="500.0" y2="348.4" stroke="#4a5866" stroke-width="1.2"/>
<line x1="505.5" y1="349.4" x2="505.5" y2="348.0" stroke="#4a5866" stroke-width="1.2"/>
<line x1="510.2" y1="347.9" x2="509.5" y2="345.6" stroke="#4a5866" stroke-width="1.2"/>
<line x1="514.9" y1="346.4" x2="514.3" y2="345.3" stroke="#4a5866" stroke-width="1.2"/>
<line x1="519.6" y1="344.9" x2="519.1" y2="342.6" stroke="#4a5866" stroke-width="1.2"/>
<line x1="524.3" y1="343.5" x2="524.2" y2="341.4" stroke="#4a5866" stroke-width="1.2"/>
<line x1="529.0" y1="342.0" x2="528.1" y2="340.3" stroke="#4a5866" stroke-width="1.2"/>
<line x1="533.9" y1="342.6" x2="533.5" y2="341.3" stroke="#4a5866" stroke-width="1.2"/>
<line x1="538.7" y1="343.2" x2="539.0" y2="341.7" stroke="#4a5866" stroke-width="1.2"/>
<line x1="543.5" y1="343.8" x2="542.8" y2="341.3" stroke="#4a5866" stroke-width="1.2"/>
<line x1="548.4" y1="344.4" x2="548.4" y2="343.1" stroke="#4a5866" stroke-width="1.2"/>
<line x1="553.2" y1="345.0" x2="552.3" y2="343.0" stroke="#4a5866" stroke-width="1.2"/>
<line x1="558.1" y1="345.6" x2="558.1" y2="344.6" stroke="#4a5866" stroke-width="1.2"/>
<line x1="563.0" y1="346.2" x2="562.9" y2="344.1" stroke="#4a5866" stroke-width="1.2"/>
<line x1="567.8" y1="346.8" x2="567.9" y2="345.4" stroke="#4a5866" stroke-width="1.2"/>
<line x1="572.6" y1="347.4" x2="572.6" y2="345.5" stroke="#4a5866" stroke-width="1.2"/>
<line x1="577.5" y1="348.0" x2="577.8" y2="346.8" stroke="#4a5866" stroke-width="1.2"/>
<line x1="582.4" y1="348.6" x2="583.0" y2="346.2" stroke="#4a5866" stroke-width="1.2"/>
<line x1="587.2" y1="349.2" x2="587.7" y2="346.9" stroke="#4a5866" stroke-width="1.2"/>
<line x1="592.0" y1="349.8" x2="591.8" y2="347.4" stroke="#4a5866" stroke-width="1.2"/>
<line x1="596.9" y1="350.4" x2="596.3" y2="349.1" stroke="#4a5866" stroke-width="1.2"/>
<line x1="601.8" y1="351.0" x2="601.9" y2="348.6" stroke="#4a5866" stroke-width="1.2"/>
<line x1="606.6" y1="351.6" x2="605.8" y2="350.3" stroke="#4a5866" stroke-width="1.2"/>
<line x1="611.5" y1="352.2" x2="610.5" y2="350.5" stroke="#4a5866" stroke-width="1.2"/>
<line x1="616.3" y1="352.8" x2="615.6" y2="351.5" stroke="#4a5866" stroke-width="1.2"/>
<line x1="621.1" y1="353.4" x2="621.6" y2="351.5" stroke="#4a5866" stroke-width="1.2"/>
<line x1="626.0" y1="354.0" x2="626.9" y2="352.4" stroke="#4a5866" stroke-width="1.2"/>
<line x1="630.9" y1="354.6" x2="631.2" y2="353.6" stroke="#4a5866" stroke-width="1.2"/>
<line x1="635.7" y1="355.2" x2="636.6" y2="353.9" stroke="#4a5866" stroke-width="1.2"/>
<line x1="640.5" y1="355.8" x2="640.5" y2="354.0" stroke="#4a5866" stroke-width="1.2"/>
<line x1="645.4" y1="356.4" x2="646.3" y2="354.7" stroke="#4a5866" stroke-width="1.2"/>
<line x1="650.2" y1="357.0" x2="651.2" y2="355.1" stroke="#4a5866" stroke-width="1.2"/>
<line x1="655.1" y1="357.6" x2="654.5" y2="355.3" stroke="#4a5866" stroke-width="1.2"/>
<line x1="660.0" y1="358.2" x2="659.4" y2="355.7" stroke="#4a5866" stroke-width="1.2"/>
<line x1="664.8" y1="358.8" x2="664.7" y2="357.5" stroke="#4a5866" stroke-width="1.2"/>
<line x1="669.6" y1="359.4" x2="670.6" y2="357.9" stroke="#4a5866" stroke-width="1.2"/>
<line x1="674.5" y1="360.0" x2="674.3" y2="358.5" stroke="#4a5866" stroke-width="1.2"/>
<line x1="679.4" y1="360.6" x2="679.7" y2="359.6" stroke="#4a5866" stroke-width="1.2"/>
<line x1="684.2" y1="361.2" x2="683.9" y2="360.0" stroke="#4a5866" stroke-width="1.2"/>
<line x1="689.0" y1="361.8" x2="689.7" y2="360.8" stroke="#4a5866" stroke-width="1.2"/>
<line x1="693.9" y1="362.4" x2="694.1" y2="361.0" stroke="#4a5866" stroke-width="1.2"/>
<line x1="698.8" y1="363.0" x2="698.7" y2="361.2" stroke="#4a5866" stroke-width="1.2"/>
<line x1="703.6" y1="363.6" x2="704.0" y2="362.4" stroke="#4a5866" stroke-width="1.2"/>
<line x1="708.5" y1="364.2" x2="707.9" y2="363.0" stroke="#4a5866" stroke-width="1.2"/>
<line x1="713.3" y1="364.8" x2="714.2" y2="363.6" stroke="#4a5866" stroke-width="1.2"/>
<line x1="718.1" y1="365.4" x2="717.4" y2="363.6" stroke="#4a5866" stroke-width="1.2"/>
<path d="M469.1,294.1 470.0,294.2 470.9,294.3 471.7,294.5 472.4,294.8 473.1,295.1 473.7,295.5 474.2,296.0 474.7,296.5 475.0,297.1 475.3,297.8 475.6,298.6 475.7,299.4 475.9,300.2 476.0,301.1 476.1,302.0 476.1,302.9 476.3,303.8 476.4,304.6 476.6,305.4 476.8,306.2 477.1,306.9 477.5,307.5 477.9,308.0 478.5,308.5 479.1,308.9 479.8,309.2 480.5,309.4 481.3,309.6 482.2,309.8 483.0,309.9 483.9,310.0 484.8,310.1 485.7,310.2 486.6,310.4 487.4,310.6 488.1,310.8 488.8,311.1 489.4,311.5 489.9,312.0 490.4,312.5 490.8,313.1 491.1,313.8 491.3,314.5 491.5,315.4 491.6,316.2 491.7,317.1 491.8,318.0 491.9,318.9 492.0,319.8 492.1,320.6 492.3,321.4 492.6,322.2 492.8,322.9 493.2,323.5 493.7,324.0 494.2,324.5 494.8,324.9 495.5,325.2 496.2,325.5 497.0,325.7 497.9,325.8 498.7,325.9 499.6,326.0 500.5,326.1 501.4,326.3 502.2,326.4 503.1,326.6 503.8,326.8 504.5,327.1 505.1,327.5 505.7,328.0 506.1,328.5 506.5,329.1 506.8,329.8 507.1,330.5 507.2,331.3 507.4,332.2 507.5,333.0 507.6,333.9 507.7,334.8 507.8,335.7 507.9,336.6 508.1,337.4 508.3,338.2 508.6,338.9 509.0,339.5 509.4,340.0 509.9,340.5 510.5,340.9 511.2,341.2 511.9,341.5 512.7,341.7 513.5,341.8 514.4,342.0 515.3,342.1 516.2,342.2 517.1,342.3 517.9,342.4 518.8,342.6 519.5,342.9 520.2,343.2 520.8,343.5 521.4,344.0 521.9,344.5 522.2,345.1 522.6,345.8 522.8,346.5 523.0,347.3 523.2,348.1 523.3,349.0 523.4,349.9 523.4,350.8 523.5,351.7 523.7,352.5 523.8,353.4 524.1,354.1 524.3,354.8 524.7,355.5 525.1,356.0 525.6,356.5 526.2,356.9 526.9,357.2 527.6,357.5 528.4,357.7 529.2,357.9 530.1,358.0 531.0,358.1 531.9,358.2 532.8,358.3 533.6,358.5 534.5,358.6 535.2,358.9 535.9,359.2 536.6,359.5 537.1,360.0 537.6,360.5 538.0,361.1 538.3,361.7 538.6,362.5 538.8,363.3 538.9,364.1" stroke="#f2603f" stroke-width="3.4" fill="none" stroke-linecap="round"/>
<polygon points="544.0,372.0 530.9,366.7 537.1,365.1 538.7,358.9" fill="#f2603f"/>
<path d="M496.4,289.3 497.0,289.7 497.6,290.0 498.2,290.4 498.8,290.8 499.4,291.3 499.9,291.7 500.5,292.2 501.0,292.7 501.4,293.2 501.9,293.7 502.3,294.3 502.7,294.9 503.1,295.5 503.5,296.1 503.8,296.8 504.1,297.5 504.4,298.2 504.7,298.9 505.1,299.6 505.4,300.2 505.8,300.9 506.1,301.5 506.5,302.1 506.9,302.7 507.3,303.3 507.8,303.9 508.2,304.4 508.7,305.0 509.1,305.5 509.6,306.0 510.1,306.5 510.7,306.9 511.2,307.4 511.8,307.8 512.4,308.2 513.0,308.6 513.6,309.0 514.2,309.3 514.9,309.7 515.5,310.0 516.2,310.3 516.9,310.6 517.5,310.9 518.2,311.2 518.9,311.5 519.6,311.8 520.3,312.1 521.0,312.4 521.7,312.6 522.4,312.9 523.1,313.2 523.8,313.5 524.5,313.8 525.2,314.1 525.8,314.5 526.5,314.8 527.1,315.2 527.7,315.5 528.3,315.9 528.9,316.3 529.5,316.7 530.0,317.2 530.6,317.6 531.1,318.1 531.6,318.6 532.1,319.1 532.5,319.7 533.0,320.2 533.4,320.8 533.8,321.4 534.2,322.0 534.6,322.6 534.9,323.3 535.3,323.9 535.6,324.6 536.0,325.2 536.3,325.9 536.6,326.6 536.9,327.3 537.3,328.0 537.6,328.6 537.9,329.3 538.2,330.0 538.5,330.7 538.9,331.4 539.2,332.0 539.5,332.7 539.9,333.3 540.3,334.0 540.6,334.6 541.0,335.2 541.5,335.8 541.9,336.4 542.3,336.9 542.8,337.4 543.3,338.0 543.8,338.5 544.3,338.9 544.8,339.4 545.4,339.8 545.9,340.3 546.5,340.7 547.1,341.0 547.7,341.4 548.4,341.8 549.0,342.1 549.7,342.4 550.3,342.8 551.0,343.1 551.7,343.4 552.4,343.6 553.1,343.9 553.8,344.2 554.5,344.5 555.2,344.8" stroke="#f2603f" stroke-width="3.0" fill="none" stroke-linecap="round"/>
<path d="M496.4,289.3 496.8,289.9 497.2,290.5 497.6,291.1 498.1,291.6 498.5,292.2 499.0,292.7 499.5,293.2 500.0,293.7 500.5,294.1 501.1,294.6 501.7,295.0 502.3,295.3 502.9,295.7 503.6,296.0 504.3,296.3 505.0,296.6 505.7,296.9 506.4,297.1 507.1,297.4 507.8,297.8 508.4,298.1 509.1,298.4 509.7,298.8 510.3,299.1 511.0,299.5 511.5,299.9 512.1,300.3 512.7,300.7 513.2,301.2 513.8,301.7 514.3,302.1 514.7,302.7 515.2,303.2 515.7,303.7 516.1,304.3 516.5,304.9 516.9,305.5 517.3,306.1 517.7,306.7 518.1,307.3 518.4,308.0 518.7,308.6 519.1,309.3 519.4,310.0 519.7,310.7 520.0,311.4 520.4,312.1 520.7,312.7 521.0,313.4 521.3,314.1 521.6,314.8 522.0,315.5 522.3,316.1 522.7,316.8 523.0,317.4 523.4,318.0 523.8,318.7 524.2,319.3 524.6,319.8 525.0,320.4 525.5,320.9 526.0,321.5 526.4,322.0 526.9,322.5 527.5,322.9 528.0,323.4 528.6,323.8 529.1,324.2 529.7,324.6 530.3,325.0 531.0,325.4 531.6,325.7 532.3,326.1 532.9,326.4 533.6,326.7 534.3,327.0 535.0,327.3 535.7,327.6 536.4,327.9 537.1,328.1 537.8,328.4 538.5,328.7 539.2,329.0 539.9,329.3 540.6,329.6 541.2,329.9 541.9,330.2 542.6,330.5 543.2,330.8 543.9,331.2 544.5,331.6 545.1,331.9 545.7,332.3 546.3,332.8 546.8,333.2 547.4,333.6 547.9,334.1 548.4,334.6 548.9,335.1 549.4,335.6 549.8,336.2 550.2,336.7 550.7,337.3 551.1,337.9 551.4,338.5 551.8,339.2 552.2,339.8 552.5,340.5 552.9,341.1 553.2,341.8 553.5,342.5 553.8,343.2 554.2,343.8 554.5,344.5 554.8,345.2" stroke="#f2603f" stroke-width="3.0" fill="none" stroke-linecap="round"/>
<path d="M553,343 Q562,351 569,364" stroke="#f2603f" stroke-width="4.2" fill="none" stroke-linecap="round"/>
<polygon points="576.5,374.0 563.5,364.4 570.6,364.4 573.7,358.1" fill="#f2603f"/>
<path d="M527.8,287.9 528.4,288.3 528.9,288.7 529.4,289.3 529.8,289.9 530.1,290.6 530.3,291.4 530.5,292.2 530.6,293.0 530.8,293.9 530.9,294.8 531.0,295.7 531.1,296.6 531.2,297.4 531.4,298.2 531.7,299.0 532.0,299.7 532.3,300.3 532.8,300.8 533.3,301.3 533.9,301.7 534.6,302.0 535.4,302.2 536.2,302.4 537.0,302.6 537.9,302.7 538.8,302.8 539.7,302.9 540.6,303.0 541.4,303.1 542.2,303.3 543.0,303.6 543.7,303.9 544.3,304.2 544.8,304.7 545.3,305.2 545.7,305.8 546.0,306.5 546.3,307.2 546.5,308.0 546.6,308.8 546.8,309.7 546.9,310.6 547.0,311.5 547.1,312.4 547.2,313.2 547.4,314.1 547.6,314.8 547.9,315.5 548.3,316.2 548.7,316.7 549.2,317.2 549.8,317.6 550.5,318.0 551.2,318.2 552.0,318.4 552.8,318.6 553.7,318.7 554.6,318.8 555.5,318.9 556.4,319.0 557.2,319.2 558.0,319.3 558.8,319.6 559.5,319.8 560.2,320.2 560.7,320.6 561.2,321.1 561.7,321.7 562.0,322.3 562.3,323.1 562.5,323.8 562.6,324.7 562.8,325.5 562.9,326.4 563.0,327.3 563.1,328.2 563.2,329.1 563.4,329.9 563.6,330.7 563.9,331.4 564.2,332.1 564.6,332.7 565.1,333.2 565.7,333.6 566.3,333.9 567.0,334.2 567.8,334.4 568.6,334.6 569.5,334.7 570.4,334.9 571.3,335.0 572.2,335.1 573.0,335.2 573.9,335.3 574.7,335.5 575.4,335.8 576.0,336.1 576.6,336.5 577.2,337.0 577.6,337.6 577.9,338.2 578.2,338.9 578.5,339.7 578.6,340.5 578.8,341.4 578.9,342.3 579.0,343.1 579.1,344.0 579.2,344.9 579.4,345.8 579.6,346.5 579.8,347.3 580.1,348.0 580.5,348.6 581.0,349.1 581.6,349.5 582.2,349.9 582.9,350.2 583.6,350.4 584.4,350.6 585.3,350.8 586.2,350.9 587.1,351.0 588.0,351.1 588.8,351.2 589.7,351.4 590.5,351.6 591.2,351.8 591.9,352.1 592.5,352.5 593.1,353.0 593.5,353.5 593.9,354.1" stroke="#f2603f" stroke-width="3.4" fill="none" stroke-linecap="round"/>
<polygon points="598.5,364.0 585.3,359.0 591.4,357.3 592.9,351.1" fill="#f2603f"/>
<path d="M557.8,370.5 558.8,370.8 559.7,370.9 560.4,370.7 560.9,370.1 561.2,369.2 561.3,368.2 561.5,367.1 561.7,366.2 562.2,365.6 562.9,365.4 563.8,365.5 564.8,365.8 565.8,366.0 566.8,366.1 567.5,366.0 568.0,365.4 568.2,364.6 568.4,363.5 568.5,362.4 568.8,361.5 569.2,360.9 569.9,360.7 570.8,360.8 571.8,361.0 572.8,361.3 573.8,361.4 574.5,361.3 575.0,360.7 575.3,359.9 575.5,358.9 575.6,357.8 575.8,356.9 576.3,356.2 576.9,356.0 577.8,356.0 578.8,356.3 579.9,356.6 580.8,356.7 581.5,356.5 582.1,356.0 582.4,355.2 582.5,354.2 582.6,353.1 582.9,352.2 583.3,351.6 583.9,351.3 584.8,351.3 585.8,351.5 586.9,351.8 587.8,352.0 588.6,351.8 589.1,351.4 589.4,350.6 589.6,349.5 589.7,348.5 589.9,347.5 590.3,346.9 591.0,346.5 591.8,346.6 592.8,346.8 593.9,347.1 594.8,347.3 595.6,347.1 596.1,346.7 596.5,345.9 596.6,344.9 596.8,343.8 597.0,342.8 597.4,342.2 598.0,341.8 598.8,341.8 599.8,342.1" stroke="#a8ee78" stroke-width="1.3" fill="none" stroke-linecap="round"/>
<path d="M573.5,364.7 574.6,364.8 575.5,364.8 576.2,364.4 576.5,363.8 576.7,362.9 576.6,361.8 576.6,360.7 576.8,359.8 577.2,359.2 577.9,358.9 578.8,358.9 579.9,359.0 580.9,359.1 581.8,359.0 582.5,358.7 582.8,358.0 583.0,357.1 582.9,356.0 582.9,355.0 583.1,354.1 583.5,353.5 584.2,353.2 585.1,353.2 586.2,353.3 587.3,353.4 588.2,353.3 588.8,353.0 589.1,352.3 589.3,351.3 589.2,350.3 589.2,349.2 589.4,348.3 589.8,347.7 590.5,347.5 591.5,347.5 592.6,347.6 593.6,347.7" stroke="#a8ee78" stroke-width="1.3" fill="none" stroke-linecap="round"/>
<path d="M581.3,374.6 582.3,374.8 583.3,374.8 583.9,374.6 584.4,374.0 584.6,373.1 584.7,372.1 584.8,371.0 585.0,370.1 585.4,369.5 586.1,369.2 587.0,369.2 588.0,369.4 589.0,369.6 590.0,369.7 590.7,369.5 591.1,368.9 591.4,368.0 591.4,367.0 591.5,365.9 591.7,365.0 592.1,364.4 592.8,364.1 593.6,364.1 594.7,364.3 595.7,364.5 596.7,364.6 597.4,364.4 597.9,363.8 598.1,363.0 598.2,361.9 598.3,360.9 598.4,359.9 598.8,359.3 599.5,358.9 600.3,358.9 601.4,359.1 602.4,359.3 603.4,359.4 604.1,359.2 604.6,358.7 604.9,357.9 605.0,356.9 605.0,355.8 605.2,354.8 605.6,354.2 606.2,353.8 607.0,353.8 608.1,353.9 609.1,354.2 610.1,354.3 610.8,354.1 611.3,353.6 611.6,352.8" stroke="#a8ee78" stroke-width="1.3" fill="none" stroke-linecap="round"/>
<path d="M598.0,367.8 599.1,368.0 600.0,368.0 600.7,367.7 601.1,367.1 601.3,366.2 601.3,365.1 601.3,364.0 601.5,363.1 601.9,362.5 602.6,362.3 603.6,362.3 604.6,362.4 605.7,362.6 606.6,362.6 607.3,362.3 607.7,361.7 607.8,360.8 607.9,359.7 607.9,358.7 608.1,357.8 608.5,357.2 609.2,356.9 610.2,356.9 611.2,357.1 612.3,357.2 613.2,357.2 613.9,356.9 614.3,356.3 614.4,355.4 614.5,354.3 614.5,353.3 614.7,352.4 615.1,351.8 615.8,351.5 616.8,351.5 617.8,351.7 618.9,351.9 619.8,351.9 620.5,351.6 620.9,350.9 621.0,350.0 621.1,348.9 621.1,347.9 621.3,347.0 621.7,346.4 622.4,346.1 623.4,346.2 624.4,346.3 625.5,346.5 626.4,346.5" stroke="#a8ee78" stroke-width="1.3" fill="none" stroke-linecap="round"/>
<path d="M698.4,430.4 698.4,431.4 698.5,432.3 698.7,433.1 699.0,433.8 699.4,434.4 699.9,434.9 700.6,435.2 701.4,435.3 702.3,435.4 703.2,435.5 704.2,435.5 705.1,435.5 706.0,435.6 706.8,435.8 707.4,436.2 707.9,436.7 708.3,437.3 708.5,438.0 708.7,438.9 708.8,439.8 708.8,440.8 708.8,441.7 708.9,442.6 709.1,443.4 709.5,444.1 709.9,444.7 710.5,445.1 711.2,445.3 712.0,445.5 712.9,445.6 713.9,445.6 714.9,445.6 715.8,445.7 716.6,445.8 717.4,446.0 718.0,446.4 718.4,446.9 718.8,447.6 719.0,448.4 719.1,449.3 719.2,450.2 719.2,451.2 719.2,452.1 719.4,453.0 719.6,453.8 719.9,454.4 720.4,454.9 721.1,455.3 721.8,455.5 722.7,455.6 723.6,455.7 724.6,455.7 725.5,455.7 726.4,455.8 727.2,456.0 727.9,456.3 728.5,456.7 728.9,457.2 729.2,457.9 729.4,458.8 729.5,459.7 729.5,460.6 729.6,461.6 729.7,462.5 729.8,463.4 730.1,464.1 730.5,464.7 731.0,465.2 731.6,465.5 732.4,465.7 733.3,465.8 734.3,465.8 735.2,465.8 736.2,465.9 737.1,466.0 737.8,466.2 738.5,466.5 739.0,466.9 739.4,467.5" stroke="#4d92ea" stroke-width="1.9" fill="none" stroke-linecap="round"/>
<polygon points="741.6,472.5 735.2,470.5 739.4,466.2" fill="#4d92ea"/>
<path d="M695.7,454.7 695.7,455.7 695.8,456.6 696.0,457.4 696.3,458.1 696.7,458.7 697.2,459.2 697.9,459.5 698.7,459.6 699.6,459.7 700.6,459.8 701.6,459.8 702.5,459.8 703.4,459.9 704.1,460.1 704.8,460.5 705.3,461.0 705.6,461.6 705.9,462.4 706.0,463.3 706.1,464.2 706.1,465.2 706.2,466.1 706.3,467.0 706.5,467.8 706.8,468.5 707.3,469.0 707.9,469.4 708.6,469.7 709.5,469.8 710.4,469.9 711.4,469.9 712.3,469.9 713.2,470.0 714.1,470.1 714.8,470.4 715.4,470.8 715.8,471.3 716.1,472.0 716.3,472.9 716.4,473.8 716.5,474.7 716.5,475.7 716.6,476.6 716.7,477.5 717.0,478.2 717.4,478.8 717.9,479.3 718.5,479.6 719.3,479.8 720.2,479.9 721.2,480.0 722.1,480.0 723.1,480.0 724.0,480.1 724.8,480.3 725.4,480.6 726.0,481.1 726.3,481.7 726.6,482.5 726.8,483.3 726.8,484.2 726.9,485.2 726.9,486.2 727.0,487.1 727.2,487.9 727.5,488.6 727.9,489.2 728.5,489.6 729.2,489.9 730.0,490.0 731.0,490.1 731.9,490.1 732.9,490.1 733.8,490.2 734.7,490.3 735.4,490.5" stroke="#4d92ea" stroke-width="1.9" fill="none" stroke-linecap="round"/>
<polygon points="737.6,495.5 731.2,493.5 735.4,489.2" fill="#4d92ea"/>
<path d="M679.0,458.8 679.0,459.8 679.1,460.7 679.3,461.5 679.5,462.3 680.0,462.8 680.5,463.3 681.2,463.6 682.0,463.8 682.9,463.9 683.9,463.9 684.8,463.9 685.8,464.0 686.6,464.1 687.4,464.3 688.0,464.7 688.5,465.2 688.9,465.9 689.1,466.6 689.2,467.5 689.3,468.4 689.3,469.4 689.3,470.4 689.5,471.3 689.7,472.1 690.0,472.7 690.5,473.3 691.1,473.6 691.8,473.9 692.7,474.0 693.6,474.1 694.6,474.1 695.5,474.2 696.4,474.2 697.3,474.4 698.0,474.7 698.5,475.1 699.0,475.7 699.3,476.4 699.5,477.2 699.5,478.1 699.6,479.1 699.6,480.0 699.7,481.0 699.8,481.8 700.1,482.6 700.5,483.2 701.0,483.7 701.7,484.0 702.4,484.2 703.3,484.3 704.3,484.3 705.3,484.3 706.2,484.4 707.1,484.5 707.9,484.7 708.5,485.1 709.0,485.5 709.4,486.2 709.7,486.9 709.8,487.8 709.9,488.7 709.9,489.7 709.9,490.6 710.0,491.6 710.2,492.4 710.5,493.1 711.0,493.6 711.5,494.0 712.3,494.3 713.1,494.5 714.0,494.5 715.0,494.6 715.9,494.6 716.9,494.6 717.7,494.8 718.4,495.1 719.0,495.5 719.5,496.0 719.8,496.7 720.0,497.5 720.1,498.4" stroke="#4d92ea" stroke-width="1.9" fill="none" stroke-linecap="round"/>
<polygon points="723.0,502.5 716.7,500.4 720.9,496.2" fill="#4d92ea"/>
<path d="M675.6,492.0 675.6,493.0 675.7,493.9 675.8,494.7 676.1,495.4 676.5,496.0 677.0,496.5 677.7,496.8 678.5,497.0 679.4,497.1 680.4,497.2 681.3,497.2 682.3,497.2 683.1,497.4 683.9,497.6 684.5,498.0 685.0,498.5 685.4,499.1 685.6,499.9 685.7,500.8 685.8,501.7 685.8,502.7 685.8,503.6 685.9,504.5 686.1,505.3 686.4,506.0 686.8,506.5 687.4,506.9 688.2,507.2 689.0,507.4 689.9,507.5 690.9,507.5 691.8,507.5 692.8,507.6 693.6,507.8 694.3,508.0 694.9,508.5 695.3,509.0 695.6,509.7 695.8,510.5 695.9,511.4 695.9,512.4 696.0,513.3 696.0,514.3 696.1,515.1 696.4,515.9 696.7,516.5 697.2,517.0 697.8,517.4 698.6,517.6 699.5,517.7 700.4,517.8 701.4,517.8 702.3,517.9 703.2,518.0 704.0,518.2 704.7,518.5 705.2,519.0 705.6,519.6 705.9,520.3 706.0,521.1 706.1,522.1 706.1,523.0 706.2,524.0 706.2,524.9 706.4,525.7 706.6,526.5 707.0,527.0 707.6,527.5 708.3,527.8 709.1,528.0 710.0,528.1 710.9,528.1 711.9,528.2 712.8,528.2 713.7,528.4 714.5,528.6 715.1,529.0 715.6,529.5 715.9,530.1 716.1,530.9 716.3,531.8 716.3,532.7" stroke="#4d92ea" stroke-width="1.9" fill="none" stroke-linecap="round"/>
<polygon points="719.5,536.6 713.2,534.4 717.4,530.2" fill="#4d92ea"/>
<text x="703" y="333.2" font-size="26.5">d</text>
</svg>
</body></html>
